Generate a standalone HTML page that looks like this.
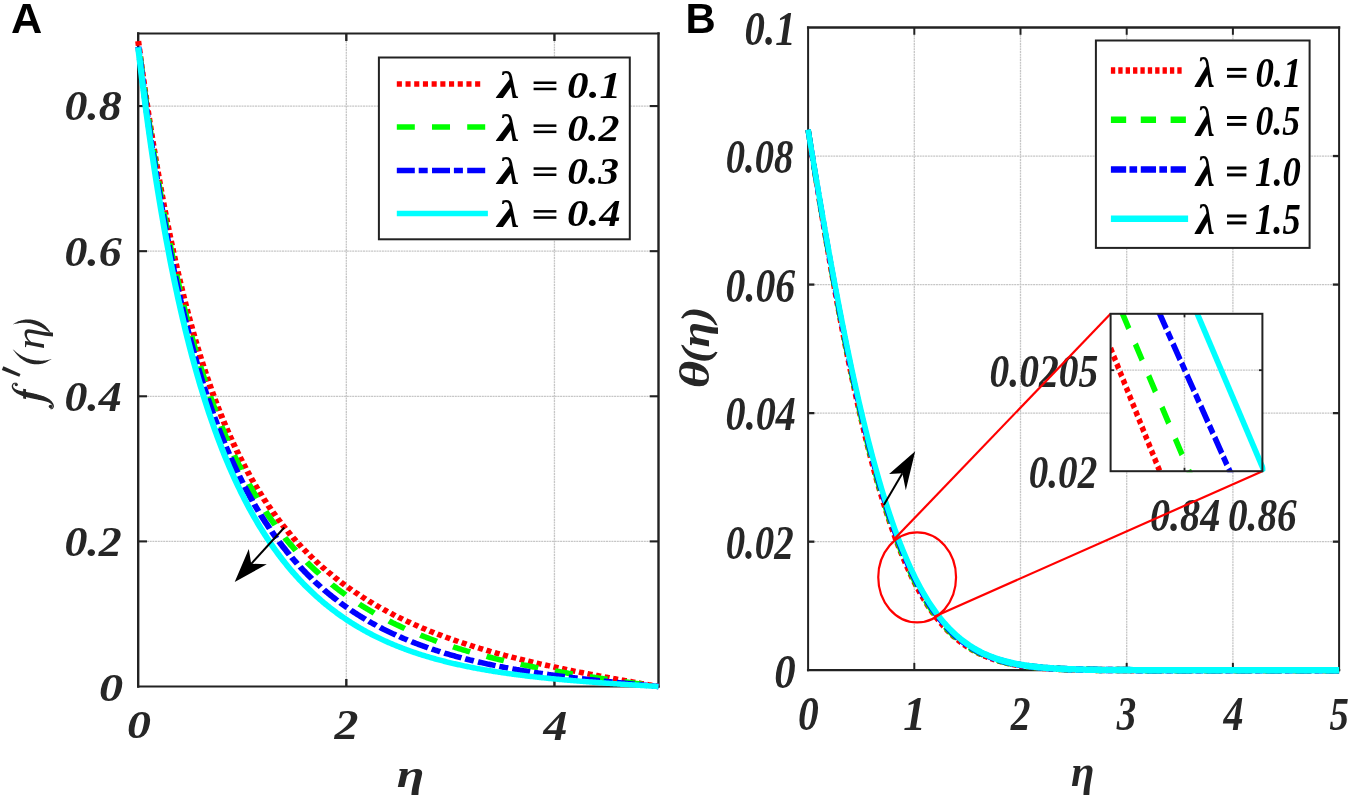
<!DOCTYPE html>
<html><head><meta charset="utf-8"><title>Figure</title>
<style>html,body{margin:0;padding:0;background:#fff}svg{display:block;will-change:transform}</style></head>
<body>
<svg width="1350" height="798" viewBox="0 0 1350 798">
<rect width="1350" height="798" fill="#fff"/>
<line x1="346.32" y1="41.00" x2="346.32" y2="679.00" stroke="#c6c6c6" stroke-width="1.3"  stroke-dasharray="2 0.7"/>
<line x1="554.44" y1="41.00" x2="554.44" y2="679.00" stroke="#c6c6c6" stroke-width="1.3"  stroke-dasharray="2 0.7"/>
<line x1="147.00" y1="541.39" x2="649.70" y2="541.39" stroke="#c6c6c6" stroke-width="1.3"  stroke-dasharray="2 0.7"/>
<line x1="147.00" y1="396.28" x2="649.70" y2="396.28" stroke="#c6c6c6" stroke-width="1.3"  stroke-dasharray="2 0.7"/>
<line x1="147.00" y1="251.17" x2="649.70" y2="251.17" stroke="#c6c6c6" stroke-width="1.3"  stroke-dasharray="2 0.7"/>
<line x1="147.00" y1="106.06" x2="649.70" y2="106.06" stroke="#c6c6c6" stroke-width="1.3"  stroke-dasharray="2 0.7"/>
<line x1="346.32" y1="686.50" x2="346.32" y2="679.00" stroke="#222222" stroke-width="2.4" />
<line x1="346.32" y1="33.50" x2="346.32" y2="41.00" stroke="#222222" stroke-width="2.4" />
<line x1="554.44" y1="686.50" x2="554.44" y2="679.00" stroke="#222222" stroke-width="2.4" />
<line x1="554.44" y1="33.50" x2="554.44" y2="41.00" stroke="#222222" stroke-width="2.4" />
<line x1="138.20" y1="541.39" x2="147.00" y2="541.39" stroke="#222222" stroke-width="2.1" />
<line x1="658.50" y1="541.39" x2="649.70" y2="541.39" stroke="#222222" stroke-width="2.1" />
<line x1="138.20" y1="396.28" x2="147.00" y2="396.28" stroke="#222222" stroke-width="2.1" />
<line x1="658.50" y1="396.28" x2="649.70" y2="396.28" stroke="#222222" stroke-width="2.1" />
<line x1="138.20" y1="251.17" x2="147.00" y2="251.17" stroke="#222222" stroke-width="2.1" />
<line x1="658.50" y1="251.17" x2="649.70" y2="251.17" stroke="#222222" stroke-width="2.1" />
<line x1="138.20" y1="106.06" x2="147.00" y2="106.06" stroke="#222222" stroke-width="2.1" />
<line x1="658.50" y1="106.06" x2="649.70" y2="106.06" stroke="#222222" stroke-width="2.1" />
<line x1="138.20" y1="33.50" x2="658.50" y2="33.50" stroke="#222222" stroke-width="2.1" stroke-linecap="square"/>
<line x1="138.20" y1="686.50" x2="658.50" y2="686.50" stroke="#222222" stroke-width="2.1" stroke-linecap="square"/>
<line x1="138.20" y1="33.50" x2="138.20" y2="686.50" stroke="#222222" stroke-width="2.4" stroke-linecap="square"/>
<line x1="658.50" y1="33.50" x2="658.50" y2="686.50" stroke="#222222" stroke-width="2.4" stroke-linecap="square"/>
<g transform="scale(1.12 1.0)">
<path d="M123.39 41.12 L124.32 49.05 L125.25 56.86 L126.18 64.55 L127.11 72.12 L128.04 79.57 L128.97 86.91 L129.90 94.14 L130.83 101.25 L131.75 108.26 L132.68 115.16 L133.61 121.96 L134.54 128.65 L135.47 135.24 L136.40 141.73 L137.33 148.13 L138.26 154.42 L139.19 160.63 L140.12 166.74 L141.05 172.76 L141.97 178.69 L142.90 184.53 L143.83 190.28 L144.76 195.95 L145.69 201.54 L146.62 207.05 L147.55 212.47 L148.48 217.81 L149.41 223.08 L150.34 228.27 L151.27 233.38 L152.20 238.42 L153.12 243.39 L154.05 248.29 L154.98 253.11 L155.91 257.87 L156.84 262.55 L157.77 267.18 L158.70 271.73 L159.63 276.22 L160.56 280.65 L161.49 285.01 L162.42 289.32 L163.34 293.56 L164.27 297.75 L165.20 301.87 L166.13 305.94 L167.06 309.95 L167.99 313.91 L168.92 317.81 L169.85 321.66 L170.78 325.45 L171.71 329.19 L172.64 332.89 L173.56 336.53 L174.49 340.12 L175.42 343.67 L176.35 347.16 L177.28 350.61 L178.21 354.01 L179.14 357.37 L180.07 360.68 L181.00 363.95 L181.93 367.18 L182.86 370.36 L183.78 373.50 L184.71 376.60 L185.64 379.66 L186.57 382.68 L187.50 385.66 L188.43 388.61 L189.36 391.51 L190.29 394.38 L191.22 397.21 L192.15 400.00 L193.08 402.76 L194.00 405.48 L194.93 408.17 L195.86 410.83 L196.79 413.45 L197.72 416.04 L198.65 418.59 L199.58 421.12 L200.51 423.61 L201.44 426.07 L202.37 428.50 L203.30 430.91 L204.23 433.28 L205.15 435.62 L206.08 437.94 L207.01 440.22 L207.94 442.48 L208.87 444.72 L209.80 446.92 L210.73 449.10 L211.66 451.25 L212.59 453.38 L213.52 455.48 L214.45 457.56 L215.37 459.61 L216.30 461.64 L217.23 463.65 L218.16 465.63 L219.09 467.59 L220.02 469.52 L220.95 471.44 L221.88 473.33 L222.81 475.20 L223.74 477.05 L224.67 478.88 L225.59 480.69 L226.52 482.47 L227.45 484.24 L228.38 485.99 L229.31 487.72 L230.24 489.42 L231.17 491.11 L232.10 492.78 L233.03 494.44 L233.96 496.07 L234.89 497.69 L235.81 499.29 L236.74 500.87 L237.67 502.43 L238.60 503.98 L239.53 505.51 L240.46 507.03 L241.39 508.53 L242.32 510.01 L243.25 511.48 L244.18 512.93 L245.11 514.36 L246.03 515.79 L246.96 517.19 L247.89 518.58 L248.82 519.96 L249.75 521.33 L250.68 522.67 L251.61 524.01 L252.54 525.33 L253.47 526.64 L254.40 527.94 L255.33 529.22 L256.26 530.49 L257.18 531.74 L258.11 532.99 L259.04 534.22 L259.97 535.44 L260.90 536.65 L261.83 537.84 L262.76 539.03 L263.69 540.20 L264.62 541.36 L265.55 542.51 L266.48 543.65 L267.40 544.77 L268.33 545.89 L269.26 547.00 L270.19 548.09 L271.12 549.18 L272.05 550.25 L272.98 551.31 L273.91 552.37 L274.84 553.41 L275.77 554.45 L276.70 555.47 L277.62 556.49 L278.55 557.50 L279.48 558.49 L280.41 559.48 L281.34 560.46 L282.27 561.43 L283.20 562.39 L284.13 563.34 L285.06 564.29 L285.99 565.22 L286.92 566.15 L287.84 567.07 L288.77 567.98 L289.70 568.88 L290.63 569.77 L291.56 570.66 L292.49 571.54 L293.42 572.41 L294.35 573.27 L295.28 574.13 L296.21 574.98 L297.14 575.82 L298.06 576.65 L298.99 577.48 L299.92 578.30 L300.85 579.11 L301.78 579.92 L302.71 580.72 L303.64 581.51 L304.57 582.30 L305.50 583.08 L306.43 583.85 L307.36 584.61 L308.29 585.37 L309.21 586.13 L310.14 586.87 L311.07 587.61 L312.00 588.35 L312.93 589.08 L313.86 589.80 L314.79 590.52 L315.72 591.23 L316.65 591.94 L317.58 592.64 L318.51 593.33 L319.43 594.02 L320.36 594.70 L321.29 595.38 L322.22 596.05 L323.15 596.72 L324.08 597.38 L325.01 598.04 L325.94 598.69 L326.87 599.34 L327.80 599.98 L328.73 600.61 L329.65 601.25 L330.58 601.87 L331.51 602.49 L332.44 603.11 L333.37 603.72 L334.30 604.33 L335.23 604.93 L336.16 605.53 L337.09 606.13 L338.02 606.72 L338.95 607.30 L339.87 607.88 L340.80 608.46 L341.73 609.03 L342.66 609.60 L343.59 610.16 L344.52 610.72 L345.45 611.28 L346.38 611.83 L347.31 612.38 L348.24 612.92 L349.17 613.46 L350.09 613.99 L351.02 614.53 L351.95 615.05 L352.88 615.58 L353.81 616.10 L354.74 616.61 L355.67 617.13 L356.60 617.64 L357.53 618.14 L358.46 618.64 L359.39 619.14 L360.32 619.64 L361.24 620.13 L362.17 620.62 L363.10 621.10 L364.03 621.58 L364.96 622.06 L365.89 622.54 L366.82 623.01 L367.75 623.48 L368.68 623.94 L369.61 624.40 L370.54 624.86 L371.46 625.32 L372.39 625.77 L373.32 626.22 L374.25 626.67 L375.18 627.11 L376.11 627.55 L377.04 627.99 L377.97 628.42 L378.90 628.85 L379.83 629.28 L380.76 629.71 L381.68 630.13 L382.61 630.55 L383.54 630.97 L384.47 631.39 L385.40 631.80 L386.33 632.21 L387.26 632.62 L388.19 633.02 L389.12 633.42 L390.05 633.82 L390.98 634.22 L391.90 634.61 L392.83 635.00 L393.76 635.39 L394.69 635.78 L395.62 636.16 L396.55 636.55 L397.48 636.93 L398.41 637.30 L399.34 637.68 L400.27 638.05 L401.20 638.42 L402.12 638.79 L403.05 639.16 L403.98 639.52 L404.91 639.88 L405.84 640.24 L406.77 640.60 L407.70 640.95 L408.63 641.30 L409.56 641.65 L410.49 642.00 L411.42 642.35 L412.35 642.69 L413.27 643.04 L414.20 643.38 L415.13 643.71 L416.06 644.05 L416.99 644.39 L417.92 644.72 L418.85 645.05 L419.78 645.38 L420.71 645.70 L421.64 646.03 L422.57 646.35 L423.49 646.67 L424.42 646.99 L425.35 647.31 L426.28 647.63 L427.21 647.94 L428.14 648.25 L429.07 648.56 L430.00 648.87 L430.93 649.18 L431.86 649.48 L432.79 649.79 L433.71 650.09 L434.64 650.39 L435.57 650.69 L436.50 650.99 L437.43 651.28 L438.36 651.58 L439.29 651.87 L440.22 652.16 L441.15 652.45 L442.08 652.74 L443.01 653.02 L443.93 653.31 L444.86 653.59 L445.79 653.87 L446.72 654.15 L447.65 654.43 L448.58 654.71 L449.51 654.98 L450.44 655.26 L451.37 655.53 L452.30 655.80 L453.23 656.08 L454.15 656.34 L455.08 656.61 L456.01 656.88 L456.94 657.14 L457.87 657.41 L458.80 657.67 L459.73 657.93 L460.66 658.19 L461.59 658.45 L462.52 658.71 L463.45 658.97 L464.38 659.22 L465.30 659.48 L466.23 659.73 L467.16 659.98 L468.09 660.23 L469.02 660.48 L469.95 660.73 L470.88 660.98 L471.81 661.22 L472.74 661.47 L473.67 661.71 L474.60 661.95 L475.52 662.19 L476.45 662.44 L477.38 662.67 L478.31 662.91 L479.24 663.15 L480.17 663.39 L481.10 663.62 L482.03 663.86 L482.96 664.09 L483.89 664.32 L484.82 664.56 L485.74 664.79 L486.67 665.02 L487.60 665.24 L488.53 665.47 L489.46 665.70 L490.39 665.93 L491.32 666.15 L492.25 666.38 L493.18 666.60 L494.11 666.82 L495.04 667.04 L495.96 667.26 L496.89 667.48 L497.82 667.70 L498.75 667.92 L499.68 668.14 L500.61 668.36 L501.54 668.57 L502.47 668.79 L503.40 669.00 L504.33 669.22 L505.26 669.43 L506.18 669.64 L507.11 669.85 L508.04 670.06 L508.97 670.27 L509.90 670.48 L510.83 670.69 L511.76 670.90 L512.69 671.11 L513.62 671.32 L514.55 671.52 L515.48 671.73 L516.41 671.93 L517.33 672.14 L518.26 672.34 L519.19 672.54 L520.12 672.75 L521.05 672.95 L521.98 673.15 L522.91 673.35 L523.84 673.55 L524.77 673.75 L525.70 673.95 L526.63 674.15 L527.55 674.35 L528.48 674.54 L529.41 674.74 L530.34 674.94 L531.27 675.13 L532.20 675.33 L533.13 675.52 L534.06 675.72 L534.99 675.91 L535.92 676.11 L536.85 676.30 L537.77 676.49 L538.70 676.68 L539.63 676.88 L540.56 677.07 L541.49 677.26 L542.42 677.45 L543.35 677.64 L544.28 677.83 L545.21 678.02 L546.14 678.21 L547.07 678.40 L547.99 678.59 L548.92 678.77 L549.85 678.96 L550.78 679.15 L551.71 679.34 L552.64 679.52 L553.57 679.71 L554.50 679.90 L555.43 680.08 L556.36 680.27 L557.29 680.45 L558.21 680.64 L559.14 680.82 L560.07 681.01 L561.00 681.19 L561.93 681.38 L562.86 681.56 L563.79 681.75 L564.72 681.93 L565.65 682.11 L566.58 682.30 L567.51 682.48 L568.44 682.66 L569.36 682.85 L570.29 683.03 L571.22 683.21 L572.15 683.39 L573.08 683.58 L574.01 683.76 L574.94 683.94 L575.87 684.12 L576.80 684.30 L577.73 684.49 L578.66 684.67 L579.58 684.85 L580.51 685.03 L581.44 685.21 L582.37 685.39 L583.30 685.57 L584.23 685.75 L585.16 685.94 L586.09 686.12 L587.02 686.30 L587.95 686.48" fill="none" stroke="#ff0000" stroke-width="5.5" stroke-dasharray="4.55 3.22" stroke-dashoffset="0"/>
<path d="M123.39 43.30 L124.32 51.60 L125.25 59.76 L126.18 67.79 L127.11 75.69 L128.04 83.46 L128.97 91.10 L129.90 98.61 L130.83 106.01 L131.75 113.28 L132.68 120.44 L133.61 127.48 L134.54 134.41 L135.47 141.23 L136.40 147.93 L137.33 154.53 L138.26 161.03 L139.19 167.42 L140.12 173.72 L141.05 179.91 L141.97 186.00 L142.90 192.01 L143.83 197.91 L144.76 203.73 L145.69 209.45 L146.62 215.09 L147.55 220.64 L148.48 226.10 L149.41 231.48 L150.34 236.78 L151.27 242.00 L152.20 247.14 L153.12 252.20 L154.05 257.19 L154.98 262.10 L155.91 266.93 L156.84 271.70 L157.77 276.39 L158.70 281.02 L159.63 285.57 L160.56 290.06 L161.49 294.48 L162.42 298.84 L163.34 303.14 L164.27 307.37 L165.20 311.54 L166.13 315.66 L167.06 319.71 L167.99 323.70 L168.92 327.64 L169.85 331.52 L170.78 335.35 L171.71 339.12 L172.64 342.84 L173.56 346.51 L174.49 350.13 L175.42 353.69 L176.35 357.21 L177.28 360.68 L178.21 364.10 L179.14 367.47 L180.07 370.80 L181.00 374.08 L181.93 377.32 L182.86 380.52 L183.78 383.67 L184.71 386.78 L185.64 389.84 L186.57 392.87 L187.50 395.86 L188.43 398.80 L189.36 401.71 L190.29 404.58 L191.22 407.42 L192.15 410.21 L193.08 412.97 L194.00 415.69 L194.93 418.38 L195.86 421.04 L196.79 423.66 L197.72 426.25 L198.65 428.80 L199.58 431.32 L200.51 433.81 L201.44 436.27 L202.37 438.70 L203.30 441.10 L204.23 443.47 L205.15 445.81 L206.08 448.12 L207.01 450.40 L207.94 452.65 L208.87 454.88 L209.80 457.08 L210.73 459.25 L211.66 461.40 L212.59 463.52 L213.52 465.62 L214.45 467.69 L215.37 469.74 L216.30 471.76 L217.23 473.76 L218.16 475.73 L219.09 477.69 L220.02 479.62 L220.95 481.52 L221.88 483.41 L222.81 485.27 L223.74 487.11 L224.67 488.93 L225.59 490.73 L226.52 492.51 L227.45 494.27 L228.38 496.01 L229.31 497.74 L230.24 499.44 L231.17 501.12 L232.10 502.78 L233.03 504.43 L233.96 506.06 L234.89 507.66 L235.81 509.26 L236.74 510.83 L237.67 512.39 L238.60 513.93 L239.53 515.45 L240.46 516.96 L241.39 518.45 L242.32 519.93 L243.25 521.39 L244.18 522.83 L245.11 524.26 L246.03 525.67 L246.96 527.07 L247.89 528.46 L248.82 529.83 L249.75 531.18 L250.68 532.53 L251.61 533.86 L252.54 535.17 L253.47 536.47 L254.40 537.76 L255.33 539.03 L256.26 540.29 L257.18 541.54 L258.11 542.78 L259.04 544.00 L259.97 545.22 L260.90 546.42 L261.83 547.60 L262.76 548.78 L263.69 549.94 L264.62 551.10 L265.55 552.24 L266.48 553.37 L267.40 554.49 L268.33 555.60 L269.26 556.69 L270.19 557.78 L271.12 558.86 L272.05 559.92 L272.98 560.98 L273.91 562.03 L274.84 563.06 L275.77 564.09 L276.70 565.11 L277.62 566.11 L278.55 567.11 L279.48 568.10 L280.41 569.08 L281.34 570.05 L282.27 571.01 L283.20 571.96 L284.13 572.90 L285.06 573.84 L285.99 574.76 L286.92 575.68 L287.84 576.59 L288.77 577.49 L289.70 578.38 L290.63 579.27 L291.56 580.14 L292.49 581.01 L293.42 581.87 L294.35 582.72 L295.28 583.57 L296.21 584.41 L297.14 585.24 L298.06 586.06 L298.99 586.87 L299.92 587.68 L300.85 588.48 L301.78 589.28 L302.71 590.07 L303.64 590.85 L304.57 591.62 L305.50 592.39 L306.43 593.15 L307.36 593.90 L308.29 594.65 L309.21 595.39 L310.14 596.12 L311.07 596.85 L312.00 597.57 L312.93 598.29 L313.86 599.00 L314.79 599.70 L315.72 600.40 L316.65 601.09 L317.58 601.77 L318.51 602.45 L319.43 603.13 L320.36 603.80 L321.29 604.46 L322.22 605.12 L323.15 605.77 L324.08 606.41 L325.01 607.05 L325.94 607.69 L326.87 608.32 L327.80 608.95 L328.73 609.57 L329.65 610.18 L330.58 610.79 L331.51 611.40 L332.44 612.00 L333.37 612.59 L334.30 613.18 L335.23 613.77 L336.16 614.35 L337.09 614.93 L338.02 615.50 L338.95 616.06 L339.87 616.63 L340.80 617.18 L341.73 617.74 L342.66 618.29 L343.59 618.83 L344.52 619.37 L345.45 619.91 L346.38 620.44 L347.31 620.97 L348.24 621.49 L349.17 622.01 L350.09 622.53 L351.02 623.04 L351.95 623.54 L352.88 624.05 L353.81 624.55 L354.74 625.04 L355.67 625.53 L356.60 626.02 L357.53 626.51 L358.46 626.99 L359.39 627.46 L360.32 627.94 L361.24 628.40 L362.17 628.87 L363.10 629.33 L364.03 629.79 L364.96 630.25 L365.89 630.70 L366.82 631.15 L367.75 631.59 L368.68 632.03 L369.61 632.47 L370.54 632.91 L371.46 633.34 L372.39 633.77 L373.32 634.19 L374.25 634.61 L375.18 635.03 L376.11 635.45 L377.04 635.86 L377.97 636.27 L378.90 636.68 L379.83 637.08 L380.76 637.48 L381.68 637.88 L382.61 638.27 L383.54 638.67 L384.47 639.05 L385.40 639.44 L386.33 639.82 L387.26 640.20 L388.19 640.58 L389.12 640.96 L390.05 641.33 L390.98 641.70 L391.90 642.07 L392.83 642.43 L393.76 642.79 L394.69 643.15 L395.62 643.51 L396.55 643.86 L397.48 644.21 L398.41 644.56 L399.34 644.91 L400.27 645.25 L401.20 645.60 L402.12 645.94 L403.05 646.27 L403.98 646.61 L404.91 646.94 L405.84 647.27 L406.77 647.60 L407.70 647.92 L408.63 648.25 L409.56 648.57 L410.49 648.89 L411.42 649.20 L412.35 649.52 L413.27 649.83 L414.20 650.14 L415.13 650.45 L416.06 650.75 L416.99 651.06 L417.92 651.36 L418.85 651.66 L419.78 651.96 L420.71 652.25 L421.64 652.54 L422.57 652.84 L423.49 653.13 L424.42 653.41 L425.35 653.70 L426.28 653.98 L427.21 654.27 L428.14 654.55 L429.07 654.82 L430.00 655.10 L430.93 655.38 L431.86 655.65 L432.79 655.92 L433.71 656.19 L434.64 656.46 L435.57 656.72 L436.50 656.99 L437.43 657.25 L438.36 657.51 L439.29 657.77 L440.22 658.03 L441.15 658.29 L442.08 658.54 L443.01 658.79 L443.93 659.05 L444.86 659.29 L445.79 659.54 L446.72 659.79 L447.65 660.03 L448.58 660.28 L449.51 660.52 L450.44 660.76 L451.37 661.00 L452.30 661.24 L453.23 661.48 L454.15 661.71 L455.08 661.94 L456.01 662.18 L456.94 662.41 L457.87 662.64 L458.80 662.86 L459.73 663.09 L460.66 663.32 L461.59 663.54 L462.52 663.76 L463.45 663.98 L464.38 664.21 L465.30 664.42 L466.23 664.64 L467.16 664.86 L468.09 665.07 L469.02 665.29 L469.95 665.50 L470.88 665.71 L471.81 665.92 L472.74 666.13 L473.67 666.34 L474.60 666.55 L475.52 666.75 L476.45 666.96 L477.38 667.16 L478.31 667.36 L479.24 667.57 L480.17 667.77 L481.10 667.97 L482.03 668.17 L482.96 668.36 L483.89 668.56 L484.82 668.75 L485.74 668.95 L486.67 669.14 L487.60 669.33 L488.53 669.53 L489.46 669.72 L490.39 669.91 L491.32 670.09 L492.25 670.28 L493.18 670.47 L494.11 670.66 L495.04 670.84 L495.96 671.02 L496.89 671.21 L497.82 671.39 L498.75 671.57 L499.68 671.75 L500.61 671.93 L501.54 672.11 L502.47 672.29 L503.40 672.47 L504.33 672.64 L505.26 672.82 L506.18 673.00 L507.11 673.17 L508.04 673.34 L508.97 673.52 L509.90 673.69 L510.83 673.86 L511.76 674.03 L512.69 674.20 L513.62 674.37 L514.55 674.54 L515.48 674.71 L516.41 674.88 L517.33 675.04 L518.26 675.21 L519.19 675.37 L520.12 675.54 L521.05 675.70 L521.98 675.87 L522.91 676.03 L523.84 676.19 L524.77 676.36 L525.70 676.52 L526.63 676.68 L527.55 676.84 L528.48 677.00 L529.41 677.16 L530.34 677.32 L531.27 677.47 L532.20 677.63 L533.13 677.79 L534.06 677.95 L534.99 678.10 L535.92 678.26 L536.85 678.41 L537.77 678.57 L538.70 678.72 L539.63 678.88 L540.56 679.03 L541.49 679.18 L542.42 679.34 L543.35 679.49 L544.28 679.64 L545.21 679.79 L546.14 679.94 L547.07 680.09 L547.99 680.24 L548.92 680.39 L549.85 680.54 L550.78 680.69 L551.71 680.84 L552.64 680.99 L553.57 681.14 L554.50 681.29 L555.43 681.44 L556.36 681.58 L557.29 681.73 L558.21 681.88 L559.14 682.03 L560.07 682.17 L561.00 682.32 L561.93 682.46 L562.86 682.61 L563.79 682.76 L564.72 682.90 L565.65 683.05 L566.58 683.19 L567.51 683.34 L568.44 683.48 L569.36 683.63 L570.29 683.77 L571.22 683.92 L572.15 684.06 L573.08 684.20 L574.01 684.35 L574.94 684.49 L575.87 684.63 L576.80 684.78 L577.73 684.92 L578.66 685.06 L579.58 685.21 L580.51 685.35 L581.44 685.49 L582.37 685.64 L583.30 685.78 L584.23 685.92 L585.16 686.07 L586.09 686.21 L587.02 686.35 L587.95 686.49" fill="none" stroke="#00ff00" stroke-width="5.5" stroke-dasharray="16.07 15.36" stroke-dashoffset="-13.5"/>
<path d="M123.39 45.11 L124.32 53.68 L125.25 62.10 L126.18 70.37 L127.11 78.50 L128.04 86.50 L128.97 94.36 L129.90 102.08 L130.83 109.68 L131.75 117.14 L132.68 124.48 L133.61 131.70 L134.54 138.80 L135.47 145.78 L136.40 152.65 L137.33 159.40 L138.26 166.04 L139.19 172.58 L140.12 179.01 L141.05 185.33 L141.97 191.55 L142.90 197.68 L143.83 203.70 L144.76 209.63 L145.69 215.47 L146.62 221.21 L147.55 226.86 L148.48 232.43 L149.41 237.90 L150.34 243.30 L151.27 248.60 L152.20 253.83 L153.12 258.98 L154.05 264.05 L154.98 269.04 L155.91 273.95 L156.84 278.80 L157.77 283.56 L158.70 288.26 L159.63 292.89 L160.56 297.45 L161.49 301.94 L162.42 306.37 L163.34 310.73 L164.27 315.02 L165.20 319.26 L166.13 323.43 L167.06 327.54 L167.99 331.60 L168.92 335.59 L169.85 339.53 L170.78 343.42 L171.71 347.25 L172.64 351.02 L173.56 354.74 L174.49 358.41 L175.42 362.03 L176.35 365.60 L177.28 369.12 L178.21 372.59 L179.14 376.02 L180.07 379.39 L181.00 382.72 L181.93 386.01 L182.86 389.25 L183.78 392.45 L184.71 395.61 L185.64 398.72 L186.57 401.80 L187.50 404.83 L188.43 407.82 L189.36 410.78 L190.29 413.69 L191.22 416.57 L192.15 419.41 L193.08 422.22 L194.00 424.98 L194.93 427.72 L195.86 430.41 L196.79 433.08 L197.72 435.71 L198.65 438.30 L199.58 440.87 L200.51 443.40 L201.44 445.90 L202.37 448.37 L203.30 450.81 L204.23 453.22 L205.15 455.60 L206.08 457.95 L207.01 460.27 L207.94 462.57 L208.87 464.84 L209.80 467.07 L210.73 469.29 L211.66 471.47 L212.59 473.63 L213.52 475.77 L214.45 477.88 L215.37 479.96 L216.30 482.02 L217.23 484.06 L218.16 486.07 L219.09 488.06 L220.02 490.02 L220.95 491.96 L221.88 493.88 L222.81 495.78 L223.74 497.66 L224.67 499.51 L225.59 501.35 L226.52 503.16 L227.45 504.95 L228.38 506.73 L229.31 508.48 L230.24 510.21 L231.17 511.93 L232.10 513.62 L233.03 515.30 L233.96 516.95 L234.89 518.59 L235.81 520.21 L236.74 521.82 L237.67 523.40 L238.60 524.97 L239.53 526.52 L240.46 528.06 L241.39 529.57 L242.32 531.08 L243.25 532.56 L244.18 534.03 L245.11 535.48 L246.03 536.92 L246.96 538.35 L247.89 539.75 L248.82 541.15 L249.75 542.53 L250.68 543.89 L251.61 545.24 L252.54 546.57 L253.47 547.90 L254.40 549.20 L255.33 550.50 L256.26 551.78 L257.18 553.04 L258.11 554.30 L259.04 555.54 L259.97 556.77 L260.90 557.98 L261.83 559.19 L262.76 560.38 L263.69 561.56 L264.62 562.73 L265.55 563.88 L266.48 565.02 L267.40 566.16 L268.33 567.28 L269.26 568.39 L270.19 569.48 L271.12 570.57 L272.05 571.65 L272.98 572.71 L273.91 573.77 L274.84 574.81 L275.77 575.85 L276.70 576.87 L277.62 577.88 L278.55 578.89 L279.48 579.88 L280.41 580.87 L281.34 581.84 L282.27 582.80 L283.20 583.76 L284.13 584.71 L285.06 585.64 L285.99 586.57 L286.92 587.49 L287.84 588.40 L288.77 589.30 L289.70 590.19 L290.63 591.08 L291.56 591.95 L292.49 592.82 L293.42 593.68 L294.35 594.53 L295.28 595.37 L296.21 596.20 L297.14 597.03 L298.06 597.85 L298.99 598.66 L299.92 599.46 L300.85 600.25 L301.78 601.04 L302.71 601.82 L303.64 602.59 L304.57 603.36 L305.50 604.12 L306.43 604.87 L307.36 605.61 L308.29 606.35 L309.21 607.08 L310.14 607.80 L311.07 608.52 L312.00 609.23 L312.93 609.93 L313.86 610.63 L314.79 611.32 L315.72 612.00 L316.65 612.68 L317.58 613.35 L318.51 614.02 L319.43 614.67 L320.36 615.33 L321.29 615.97 L322.22 616.61 L323.15 617.25 L324.08 617.88 L325.01 618.50 L325.94 619.12 L326.87 619.73 L327.80 620.34 L328.73 620.94 L329.65 621.53 L330.58 622.12 L331.51 622.71 L332.44 623.28 L333.37 623.86 L334.30 624.43 L335.23 624.99 L336.16 625.55 L337.09 626.10 L338.02 626.65 L338.95 627.19 L339.87 627.73 L340.80 628.26 L341.73 628.79 L342.66 629.32 L343.59 629.84 L344.52 630.35 L345.45 630.86 L346.38 631.37 L347.31 631.87 L348.24 632.36 L349.17 632.86 L350.09 633.34 L351.02 633.83 L351.95 634.30 L352.88 634.78 L353.81 635.25 L354.74 635.72 L355.67 636.18 L356.60 636.64 L357.53 637.09 L358.46 637.54 L359.39 637.99 L360.32 638.43 L361.24 638.87 L362.17 639.30 L363.10 639.73 L364.03 640.16 L364.96 640.58 L365.89 641.00 L366.82 641.41 L367.75 641.83 L368.68 642.23 L369.61 642.64 L370.54 643.04 L371.46 643.44 L372.39 643.83 L373.32 644.22 L374.25 644.61 L375.18 644.99 L376.11 645.37 L377.04 645.75 L377.97 646.12 L378.90 646.50 L379.83 646.86 L380.76 647.23 L381.68 647.59 L382.61 647.95 L383.54 648.30 L384.47 648.65 L385.40 649.00 L386.33 649.35 L387.26 649.69 L388.19 650.03 L389.12 650.37 L390.05 650.70 L390.98 651.03 L391.90 651.36 L392.83 651.69 L393.76 652.01 L394.69 652.33 L395.62 652.65 L396.55 652.96 L397.48 653.28 L398.41 653.58 L399.34 653.89 L400.27 654.20 L401.20 654.50 L402.12 654.80 L403.05 655.09 L403.98 655.39 L404.91 655.68 L405.84 655.97 L406.77 656.26 L407.70 656.54 L408.63 656.82 L409.56 657.10 L410.49 657.38 L411.42 657.65 L412.35 657.93 L413.27 658.20 L414.20 658.47 L415.13 658.73 L416.06 659.00 L416.99 659.26 L417.92 659.52 L418.85 659.77 L419.78 660.03 L420.71 660.28 L421.64 660.53 L422.57 660.78 L423.49 661.03 L424.42 661.28 L425.35 661.52 L426.28 661.76 L427.21 662.00 L428.14 662.24 L429.07 662.47 L430.00 662.70 L430.93 662.94 L431.86 663.17 L432.79 663.39 L433.71 663.62 L434.64 663.84 L435.57 664.07 L436.50 664.29 L437.43 664.51 L438.36 664.72 L439.29 664.94 L440.22 665.15 L441.15 665.36 L442.08 665.57 L443.01 665.78 L443.93 665.99 L444.86 666.20 L445.79 666.40 L446.72 666.60 L447.65 666.80 L448.58 667.00 L449.51 667.20 L450.44 667.40 L451.37 667.59 L452.30 667.79 L453.23 667.98 L454.15 668.17 L455.08 668.36 L456.01 668.54 L456.94 668.73 L457.87 668.91 L458.80 669.10 L459.73 669.28 L460.66 669.46 L461.59 669.64 L462.52 669.82 L463.45 669.99 L464.38 670.17 L465.30 670.34 L466.23 670.52 L467.16 670.69 L468.09 670.86 L469.02 671.03 L469.95 671.20 L470.88 671.36 L471.81 671.53 L472.74 671.69 L473.67 671.86 L474.60 672.02 L475.52 672.18 L476.45 672.34 L477.38 672.50 L478.31 672.65 L479.24 672.81 L480.17 672.97 L481.10 673.12 L482.03 673.27 L482.96 673.43 L483.89 673.58 L484.82 673.73 L485.74 673.88 L486.67 674.03 L487.60 674.17 L488.53 674.32 L489.46 674.46 L490.39 674.61 L491.32 674.75 L492.25 674.89 L493.18 675.04 L494.11 675.18 L495.04 675.32 L495.96 675.46 L496.89 675.59 L497.82 675.73 L498.75 675.87 L499.68 676.00 L500.61 676.14 L501.54 676.27 L502.47 676.41 L503.40 676.54 L504.33 676.67 L505.26 676.80 L506.18 676.93 L507.11 677.06 L508.04 677.19 L508.97 677.32 L509.90 677.44 L510.83 677.57 L511.76 677.70 L512.69 677.82 L513.62 677.95 L514.55 678.07 L515.48 678.19 L516.41 678.32 L517.33 678.44 L518.26 678.56 L519.19 678.68 L520.12 678.80 L521.05 678.92 L521.98 679.04 L522.91 679.16 L523.84 679.27 L524.77 679.39 L525.70 679.51 L526.63 679.62 L527.55 679.74 L528.48 679.85 L529.41 679.97 L530.34 680.08 L531.27 680.20 L532.20 680.31 L533.13 680.42 L534.06 680.53 L534.99 680.64 L535.92 680.76 L536.85 680.87 L537.77 680.98 L538.70 681.09 L539.63 681.19 L540.56 681.30 L541.49 681.41 L542.42 681.52 L543.35 681.63 L544.28 681.74 L545.21 681.84 L546.14 681.95 L547.07 682.05 L547.99 682.16 L548.92 682.27 L549.85 682.37 L550.78 682.48 L551.71 682.58 L552.64 682.69 L553.57 682.79 L554.50 682.89 L555.43 683.00 L556.36 683.10 L557.29 683.20 L558.21 683.30 L559.14 683.41 L560.07 683.51 L561.00 683.61 L561.93 683.71 L562.86 683.81 L563.79 683.92 L564.72 684.02 L565.65 684.12 L566.58 684.22 L567.51 684.32 L568.44 684.42 L569.36 684.52 L570.29 684.62 L571.22 684.72 L572.15 684.82 L573.08 684.92 L574.01 685.02 L574.94 685.12 L575.87 685.22 L576.80 685.32 L577.73 685.41 L578.66 685.51 L579.58 685.61 L580.51 685.71 L581.44 685.81 L582.37 685.91 L583.30 686.01 L584.23 686.11 L585.16 686.20 L586.09 686.30 L587.02 686.40 L587.95 686.50" fill="none" stroke="#0000ff" stroke-width="5.5" stroke-dasharray="16.07 3.48 8.04 3.84" stroke-dashoffset="-13.5"/>
<path d="M123.39 47.29 L124.32 56.09 L125.25 64.74 L126.18 73.24 L127.11 81.59 L128.04 89.80 L128.97 97.86 L129.90 105.78 L130.83 113.57 L131.75 121.23 L132.68 128.75 L133.61 136.15 L134.54 143.43 L135.47 150.58 L136.40 157.61 L137.33 164.53 L138.26 171.33 L139.19 178.02 L140.12 184.60 L141.05 191.08 L141.97 197.44 L142.90 203.71 L143.83 209.88 L144.76 215.94 L145.69 221.91 L146.62 227.79 L147.55 233.57 L148.48 239.27 L149.41 244.87 L150.34 250.39 L151.27 255.82 L152.20 261.16 L153.12 266.43 L154.05 271.61 L154.98 276.72 L155.91 281.75 L156.84 286.70 L157.77 291.58 L158.70 296.39 L159.63 301.12 L160.56 305.79 L161.49 310.38 L162.42 314.91 L163.34 319.37 L164.27 323.77 L165.20 328.10 L166.13 332.37 L167.06 336.58 L167.99 340.73 L168.92 344.82 L169.85 348.85 L170.78 352.83 L171.71 356.75 L172.64 360.61 L173.56 364.42 L174.49 368.18 L175.42 371.88 L176.35 375.54 L177.28 379.14 L178.21 382.70 L179.14 386.20 L180.07 389.66 L181.00 393.07 L181.93 396.44 L182.86 399.76 L183.78 403.03 L184.71 406.27 L185.64 409.46 L186.57 412.60 L187.50 415.71 L188.43 418.77 L189.36 421.80 L190.29 424.78 L191.22 427.73 L192.15 430.64 L193.08 433.51 L194.00 436.34 L194.93 439.14 L195.86 441.90 L196.79 444.63 L197.72 447.32 L198.65 449.98 L199.58 452.60 L200.51 455.20 L201.44 457.75 L202.37 460.28 L203.30 462.78 L204.23 465.24 L205.15 467.67 L206.08 470.08 L207.01 472.45 L207.94 474.80 L208.87 477.11 L209.80 479.40 L210.73 481.66 L211.66 483.89 L212.59 486.10 L213.52 488.28 L214.45 490.43 L215.37 492.56 L216.30 494.66 L217.23 496.74 L218.16 498.79 L219.09 500.82 L220.02 502.82 L220.95 504.80 L221.88 506.75 L222.81 508.69 L223.74 510.60 L224.67 512.48 L225.59 514.35 L226.52 516.19 L227.45 518.02 L228.38 519.82 L229.31 521.60 L230.24 523.36 L231.17 525.10 L232.10 526.82 L233.03 528.52 L233.96 530.20 L234.89 531.86 L235.81 533.50 L236.74 535.13 L237.67 536.73 L238.60 538.32 L239.53 539.89 L240.46 541.44 L241.39 542.97 L242.32 544.49 L243.25 545.99 L244.18 547.47 L245.11 548.93 L246.03 550.38 L246.96 551.82 L247.89 553.23 L248.82 554.63 L249.75 556.02 L250.68 557.39 L251.61 558.75 L252.54 560.09 L253.47 561.41 L254.40 562.72 L255.33 564.02 L256.26 565.30 L257.18 566.57 L258.11 567.82 L259.04 569.06 L259.97 570.29 L260.90 571.50 L261.83 572.70 L262.76 573.89 L263.69 575.06 L264.62 576.22 L265.55 577.37 L266.48 578.51 L267.40 579.63 L268.33 580.75 L269.26 581.84 L270.19 582.93 L271.12 584.01 L272.05 585.07 L272.98 586.13 L273.91 587.17 L274.84 588.20 L275.77 589.22 L276.70 590.23 L277.62 591.23 L278.55 592.21 L279.48 593.19 L280.41 594.16 L281.34 595.11 L282.27 596.06 L283.20 596.99 L284.13 597.92 L285.06 598.83 L285.99 599.74 L286.92 600.64 L287.84 601.52 L288.77 602.40 L289.70 603.27 L290.63 604.13 L291.56 604.98 L292.49 605.82 L293.42 606.65 L294.35 607.48 L295.28 608.29 L296.21 609.10 L297.14 609.90 L298.06 610.69 L298.99 611.47 L299.92 612.24 L300.85 613.01 L301.78 613.76 L302.71 614.51 L303.64 615.25 L304.57 615.99 L305.50 616.71 L306.43 617.43 L307.36 618.14 L308.29 618.85 L309.21 619.54 L310.14 620.23 L311.07 620.91 L312.00 621.59 L312.93 622.25 L313.86 622.92 L314.79 623.57 L315.72 624.22 L316.65 624.86 L317.58 625.49 L318.51 626.12 L319.43 626.74 L320.36 627.35 L321.29 627.96 L322.22 628.56 L323.15 629.16 L324.08 629.75 L325.01 630.33 L325.94 630.91 L326.87 631.48 L327.80 632.04 L328.73 632.60 L329.65 633.16 L330.58 633.71 L331.51 634.25 L332.44 634.79 L333.37 635.32 L334.30 635.84 L335.23 636.36 L336.16 636.88 L337.09 637.39 L338.02 637.89 L338.95 638.39 L339.87 638.89 L340.80 639.38 L341.73 639.86 L342.66 640.34 L343.59 640.82 L344.52 641.29 L345.45 641.75 L346.38 642.21 L347.31 642.67 L348.24 643.12 L349.17 643.56 L350.09 644.01 L351.02 644.44 L351.95 644.88 L352.88 645.31 L353.81 645.73 L354.74 646.15 L355.67 646.56 L356.60 646.98 L357.53 647.38 L358.46 647.79 L359.39 648.19 L360.32 648.58 L361.24 648.97 L362.17 649.36 L363.10 649.74 L364.03 650.12 L364.96 650.50 L365.89 650.87 L366.82 651.24 L367.75 651.60 L368.68 651.96 L369.61 652.32 L370.54 652.67 L371.46 653.02 L372.39 653.37 L373.32 653.71 L374.25 654.05 L375.18 654.39 L376.11 654.72 L377.04 655.05 L377.97 655.37 L378.90 655.70 L379.83 656.02 L380.76 656.33 L381.68 656.64 L382.61 656.95 L383.54 657.26 L384.47 657.57 L385.40 657.87 L386.33 658.16 L387.26 658.46 L388.19 658.75 L389.12 659.04 L390.05 659.33 L390.98 659.61 L391.90 659.89 L392.83 660.17 L393.76 660.44 L394.69 660.71 L395.62 660.98 L396.55 661.25 L397.48 661.51 L398.41 661.78 L399.34 662.04 L400.27 662.29 L401.20 662.55 L402.12 662.80 L403.05 663.05 L403.98 663.29 L404.91 663.54 L405.84 663.78 L406.77 664.02 L407.70 664.25 L408.63 664.49 L409.56 664.72 L410.49 664.95 L411.42 665.18 L412.35 665.40 L413.27 665.63 L414.20 665.85 L415.13 666.07 L416.06 666.29 L416.99 666.50 L417.92 666.71 L418.85 666.92 L419.78 667.13 L420.71 667.34 L421.64 667.54 L422.57 667.75 L423.49 667.95 L424.42 668.15 L425.35 668.34 L426.28 668.54 L427.21 668.73 L428.14 668.92 L429.07 669.11 L430.00 669.30 L430.93 669.48 L431.86 669.67 L432.79 669.85 L433.71 670.03 L434.64 670.21 L435.57 670.39 L436.50 670.56 L437.43 670.74 L438.36 670.91 L439.29 671.08 L440.22 671.25 L441.15 671.42 L442.08 671.58 L443.01 671.75 L443.93 671.91 L444.86 672.07 L445.79 672.23 L446.72 672.39 L447.65 672.54 L448.58 672.70 L449.51 672.85 L450.44 673.01 L451.37 673.16 L452.30 673.31 L453.23 673.45 L454.15 673.60 L455.08 673.75 L456.01 673.89 L456.94 674.03 L457.87 674.18 L458.80 674.32 L459.73 674.45 L460.66 674.59 L461.59 674.73 L462.52 674.86 L463.45 675.00 L464.38 675.13 L465.30 675.26 L466.23 675.39 L467.16 675.52 L468.09 675.65 L469.02 675.78 L469.95 675.91 L470.88 676.03 L471.81 676.15 L472.74 676.28 L473.67 676.40 L474.60 676.52 L475.52 676.64 L476.45 676.76 L477.38 676.87 L478.31 676.99 L479.24 677.11 L480.17 677.22 L481.10 677.34 L482.03 677.45 L482.96 677.56 L483.89 677.67 L484.82 677.78 L485.74 677.89 L486.67 678.00 L487.60 678.11 L488.53 678.21 L489.46 678.32 L490.39 678.42 L491.32 678.53 L492.25 678.63 L493.18 678.73 L494.11 678.83 L495.04 678.93 L495.96 679.03 L496.89 679.13 L497.82 679.23 L498.75 679.33 L499.68 679.42 L500.61 679.52 L501.54 679.62 L502.47 679.71 L503.40 679.80 L504.33 679.90 L505.26 679.99 L506.18 680.08 L507.11 680.17 L508.04 680.26 L508.97 680.35 L509.90 680.44 L510.83 680.53 L511.76 680.62 L512.69 680.71 L513.62 680.79 L514.55 680.88 L515.48 680.97 L516.41 681.05 L517.33 681.13 L518.26 681.22 L519.19 681.30 L520.12 681.38 L521.05 681.47 L521.98 681.55 L522.91 681.63 L523.84 681.71 L524.77 681.79 L525.70 681.87 L526.63 681.95 L527.55 682.03 L528.48 682.11 L529.41 682.18 L530.34 682.26 L531.27 682.34 L532.20 682.42 L533.13 682.49 L534.06 682.57 L534.99 682.64 L535.92 682.72 L536.85 682.79 L537.77 682.87 L538.70 682.94 L539.63 683.01 L540.56 683.09 L541.49 683.16 L542.42 683.23 L543.35 683.30 L544.28 683.38 L545.21 683.45 L546.14 683.52 L547.07 683.59 L547.99 683.66 L548.92 683.73 L549.85 683.80 L550.78 683.87 L551.71 683.94 L552.64 684.01 L553.57 684.08 L554.50 684.14 L555.43 684.21 L556.36 684.28 L557.29 684.35 L558.21 684.42 L559.14 684.48 L560.07 684.55 L561.00 684.62 L561.93 684.68 L562.86 684.75 L563.79 684.82 L564.72 684.88 L565.65 684.95 L566.58 685.01 L567.51 685.08 L568.44 685.15 L569.36 685.21 L570.29 685.28 L571.22 685.34 L572.15 685.41 L573.08 685.47 L574.01 685.54 L574.94 685.60 L575.87 685.67 L576.80 685.73 L577.73 685.79 L578.66 685.86 L579.58 685.92 L580.51 685.99 L581.44 686.05 L582.37 686.12 L583.30 686.18 L584.23 686.24 L585.16 686.31 L586.09 686.37 L587.02 686.44 L587.95 686.50" fill="none" stroke="#00ffff" stroke-width="5.5" stroke-dashoffset="0"/>
</g>
<rect x="378.9" y="57.5" width="250.90" height="181.80" fill="#fff" stroke="#222222" stroke-width="2"/>
<g transform="scale(1.12 1.0)">
<path d="M354.29 83.90 L430.36 83.90" fill="none" stroke="#ff0000" stroke-width="5.5" stroke-dasharray="4.55 3.22" />
<path d="M354.29 127.10 L435.62 127.10" fill="none" stroke="#00ff00" stroke-width="5.5" stroke-dasharray="16.07 15.36" />
<path d="M354.29 170.40 L435.62 170.40" fill="none" stroke="#0000ff" stroke-width="5.5" stroke-dasharray="16.07 3.48 8.04 3.84" />
<path d="M354.29 213.60 L435.62 213.60" fill="none" stroke="#00ffff" stroke-width="5.5" />
</g>
<text transform="matrix(0.4956 0 0 0.3700 497.43 98.30)" font-family="Liberation Serif" font-weight="bold" font-style="italic" font-size="100" fill="#000">λ</text>
<rect x="533.6" y="81.50" width="22.8" height="2.5" fill="#000"/><rect x="533.6" y="87.70" width="22.8" height="2.5" fill="#000"/>
<text transform="matrix(0.4314 0 0 0.3735 567.09 97.74)" font-family="Liberation Serif" font-weight="bold" font-style="italic" font-size="100" fill="#000">0.1</text>
<text transform="matrix(0.4956 0 0 0.3700 497.43 141.20)" font-family="Liberation Serif" font-weight="bold" font-style="italic" font-size="100" fill="#000">λ</text>
<rect x="533.6" y="124.40" width="22.8" height="2.5" fill="#000"/><rect x="533.6" y="130.60" width="22.8" height="2.5" fill="#000"/>
<text transform="matrix(0.4193 0 0 0.3735 567.13 140.64)" font-family="Liberation Serif" font-weight="bold" font-style="italic" font-size="100" fill="#000">0.2</text>
<text transform="matrix(0.4956 0 0 0.3700 497.43 184.10)" font-family="Liberation Serif" font-weight="bold" font-style="italic" font-size="100" fill="#000">λ</text>
<rect x="533.6" y="167.30" width="22.8" height="2.5" fill="#000"/><rect x="533.6" y="173.50" width="22.8" height="2.5" fill="#000"/>
<text transform="matrix(0.4151 0 0 0.3735 567.15 183.54)" font-family="Liberation Serif" font-weight="bold" font-style="italic" font-size="100" fill="#000">0.3</text>
<text transform="matrix(0.4956 0 0 0.3700 497.43 226.90)" font-family="Liberation Serif" font-weight="bold" font-style="italic" font-size="100" fill="#000">λ</text>
<rect x="533.6" y="210.10" width="22.8" height="2.5" fill="#000"/><rect x="533.6" y="216.30" width="22.8" height="2.5" fill="#000"/>
<text transform="matrix(0.4270 0 0 0.3735 567.11 226.34)" font-family="Liberation Serif" font-weight="bold" font-style="italic" font-size="100" fill="#000">0.4</text>
<line x1="284.30" y1="527.50" x2="251.20" y2="563.80" stroke="#000" stroke-width="2.0" /><polygon points="234.7,581.9 248.8,548.9 251.2,563.8 266.8,564.2" fill="#000"/>
<text transform="matrix(0.4592 0 0 0.4118 64.39 120.44)" font-family="Liberation Serif" font-weight="bold" font-style="italic" font-size="100" fill="#262626">0.8</text>
<text transform="matrix(0.4592 0 0 0.4118 64.39 265.55)" font-family="Liberation Serif" font-weight="bold" font-style="italic" font-size="100" fill="#262626">0.6</text>
<text transform="matrix(0.4592 0 0 0.4118 64.39 410.66)" font-family="Liberation Serif" font-weight="bold" font-style="italic" font-size="100" fill="#262626">0.4</text>
<text transform="matrix(0.4592 0 0 0.4118 64.39 555.77)" font-family="Liberation Serif" font-weight="bold" font-style="italic" font-size="100" fill="#262626">0.2</text>
<text transform="matrix(0.4831 0 0 0.4074 99.11 701.39)" font-family="Liberation Serif" font-weight="bold" font-style="italic" font-size="100" fill="#262626">0</text>
<text transform="matrix(0.4798 0 0 0.4059 126.92 738.29)" font-family="Liberation Serif" font-weight="bold" font-style="italic" font-size="100" fill="#262626">0</text>
<text transform="matrix(0.4784 0 0 0.4136 334.58 738.90)" font-family="Liberation Serif" font-weight="bold" font-style="italic" font-size="100" fill="#262626">2</text>
<text transform="matrix(0.4784 0 0 0.4290 543.42 739.60)" font-family="Liberation Serif" font-weight="bold" font-style="italic" font-size="100" fill="#262626">4</text>
<text transform="matrix(0.5031 0 0 0.3825 396.79 787.37)" font-family="Liberation Serif" font-weight="bold" font-style="italic" font-size="100" fill="#262626">η</text>
<g fill="#262626"><title>f</title><polygon points="16.36,382.58 16.14,382.60 15.93,382.62 15.70,382.63 15.46,382.64 15.22,382.65 14.97,382.66 14.72,382.69 14.47,382.72 14.21,382.77 13.96,382.84 13.71,382.94 13.47,383.06 13.25,383.22 13.06,383.38 12.87,383.57 12.69,383.77 12.53,383.98 12.37,384.20 12.23,384.44 12.11,384.68 11.99,384.93 11.90,385.18 11.83,385.45 11.77,385.71 11.74,385.97 11.73,386.23 11.73,386.50 11.75,386.78 11.79,387.06 11.84,387.34 11.92,387.62 12.01,387.91 12.11,388.20 12.24,388.49 12.39,388.78 12.55,389.07 12.72,389.36 12.90,389.64 13.10,389.93 13.32,390.23 13.55,390.52 13.81,390.82 14.08,391.13 14.38,391.43 14.70,391.73 15.05,392.03 15.41,392.32 15.80,392.61 16.22,392.90 16.65,393.18 17.11,393.47 17.58,393.75 18.08,394.03 18.59,394.31 19.11,394.58 19.65,394.85 20.20,395.10 20.76,395.35 21.33,395.59 21.91,395.82 22.52,396.03 23.15,396.24 23.79,396.43 24.43,396.62 25.07,396.79 25.72,396.95 26.37,397.11 27.01,397.26 27.65,397.41 28.28,397.56 28.89,397.70 29.50,397.85 30.12,398.00 30.75,398.15 31.38,398.29 32.01,398.43 32.65,398.57 33.28,398.70 33.90,398.84 34.53,398.97 35.15,399.10 35.76,399.23 36.37,399.36 36.98,399.49 37.60,399.62 38.22,399.75 38.84,399.88 39.46,400.00 40.07,400.12 40.67,400.24 41.25,400.36 41.83,400.48 42.38,400.60 42.91,400.72 43.42,400.83 43.91,400.95 44.39,401.07 44.86,401.20 45.32,401.32 45.77,401.44 46.21,401.56 46.64,401.69 47.04,401.81 47.44,401.94 47.82,402.07 48.18,402.21 48.52,402.35 48.85,402.49 49.15,402.64 49.43,402.79 49.70,402.95 49.96,403.12 50.21,403.29 50.45,403.47 50.67,403.65 50.89,403.84 51.09,404.03 51.28,404.21 51.47,404.40 51.63,404.59 51.78,404.76 51.92,404.94 52.04,405.11 52.15,405.28 52.25,405.46 52.34,405.63 52.41,405.79 52.47,405.96 52.51,406.11 52.55,406.27 52.57,406.41 52.58,406.54 52.58,406.67 52.57,406.79 52.53,406.93 52.48,407.08 52.42,407.23 52.34,407.37 52.26,407.51 52.16,407.65 52.07,407.77 51.97,407.88 51.88,407.97 51.81,408.04 51.76,408.09 51.70,408.12 51.63,408.15 51.53,408.17 51.42,408.19 51.29,408.20 51.15,408.20 51.00,408.20 50.84,408.21 50.68,408.21 50.50,408.22 50.34,408.24 50.41,409.14 50.54,409.14 50.67,409.15 50.81,409.16 50.96,409.17 51.12,409.19 51.29,409.20 51.47,409.21 51.65,409.20 51.85,409.18 52.05,409.13 52.26,409.05 52.45,408.94 52.62,408.82 52.77,408.68 52.93,408.53 53.07,408.36 53.21,408.19 53.35,408.00 53.47,407.79 53.59,407.58 53.69,407.36 53.77,407.12 53.84,406.88 53.88,406.63 53.90,406.39 53.91,406.15 53.89,405.90 53.86,405.65 53.82,405.40 53.76,405.15 53.69,404.89 53.60,404.63 53.50,404.37 53.39,404.10 53.26,403.84 53.13,403.57 52.98,403.31 52.83,403.05 52.66,402.77 52.48,402.49 52.29,402.20 52.07,401.91 51.84,401.62 51.60,401.32 51.33,401.03 51.04,400.73 50.73,400.44 50.40,400.15 50.06,399.87 49.70,399.59 49.33,399.32 48.95,399.04 48.55,398.77 48.13,398.50 47.70,398.23 47.25,397.97 46.79,397.71 46.31,397.46 45.82,397.22 45.31,396.98 44.77,396.75 44.21,396.52 43.63,396.31 43.05,396.10 42.45,395.90 41.84,395.71 41.23,395.52 40.62,395.33 40.01,395.15 39.40,394.98 38.80,394.80 38.20,394.63 37.59,394.46 36.97,394.28 36.34,394.12 35.71,393.95 35.08,393.79 34.45,393.63 33.81,393.48 33.18,393.32 32.54,393.18 31.91,393.04 31.27,392.90 30.64,392.76 29.98,392.63 29.32,392.51 28.66,392.39 28.00,392.28 27.35,392.18 26.71,392.08 26.08,391.98 25.46,391.89 24.86,391.79 24.28,391.69 23.72,391.59 23.18,391.49 22.64,391.37 22.09,391.26 21.54,391.14 21.01,391.02 20.48,390.90 19.96,390.77 19.46,390.65 18.97,390.52 18.51,390.39 18.06,390.25 17.65,390.12 17.26,389.98 16.90,389.84 16.56,389.69 16.23,389.54 15.92,389.38 15.63,389.22 15.35,389.06 15.09,388.89 14.84,388.72 14.61,388.54 14.39,388.36 14.18,388.18 14.00,388.00 13.84,387.83 13.69,387.65 13.56,387.47 13.45,387.29 13.36,387.10 13.27,386.92 13.21,386.73 13.15,386.55 13.11,386.36 13.09,386.19 13.07,386.01 13.07,385.85 13.08,385.69 13.11,385.52 13.15,385.35 13.21,385.17 13.29,384.99 13.38,384.82 13.49,384.65 13.60,384.49 13.72,384.34 13.84,384.20 13.96,384.08 14.08,383.98 14.19,383.91 14.33,383.84 14.48,383.78 14.66,383.74 14.86,383.70 15.07,383.66 15.30,383.63 15.53,383.61 15.78,383.58 16.02,383.55 16.27,383.51 16.50,383.47"/><circle cx="16.28" cy="384.53" r="1.60"/><circle cx="50.53" cy="406.49" r="1.80"/><polygon points="23.15,388.79 26.06,389.29 26.06,398.97 23.15,398.46"/></g>
<g fill="#262626"><polygon points="12.41,348.95 12.94,349.59 13.46,350.25 13.98,350.92 14.49,351.59 15.01,352.26 15.53,352.93 16.05,353.59 16.58,354.24 17.12,354.87 17.67,355.48 18.22,356.06 18.80,356.62 19.38,357.15 19.98,357.67 20.58,358.17 21.19,358.65 21.81,359.12 22.44,359.58 23.07,360.01 23.71,360.43 24.36,360.82 25.01,361.20 25.66,361.55 26.32,361.88 26.98,362.19 27.64,362.49 28.31,362.76 28.99,363.02 29.67,363.26 30.36,363.48 31.05,363.67 31.75,363.85 32.45,363.99 33.16,364.12 33.87,364.22 34.59,364.29 35.31,364.33 36.05,364.35 36.80,364.34 37.56,364.31 38.32,364.26 39.09,364.18 39.85,364.08 40.62,363.96 41.38,363.81 42.13,363.64 42.88,363.45 43.61,363.23 44.33,362.99 45.05,362.70 45.76,362.38 46.46,362.02 47.16,361.65 47.86,361.26 48.55,360.86 49.25,360.45 49.94,360.04 50.63,359.64 51.33,359.25 52.03,358.87 52.03,358.87 51.46,359.02 50.90,359.17 50.35,359.33 49.80,359.49 49.25,359.65 48.70,359.81 48.14,359.97 47.57,360.11 46.99,360.24 46.39,360.36 45.76,360.45 45.11,360.53 44.43,360.58 43.71,360.62 42.97,360.65 42.21,360.66 41.43,360.66 40.64,360.65 39.85,360.63 39.06,360.59 38.29,360.55 37.53,360.50 36.80,360.44 36.09,360.38 35.41,360.31 34.76,360.23 34.12,360.15 33.50,360.06 32.89,359.96 32.28,359.85 31.68,359.73 31.08,359.59 30.47,359.44 29.85,359.27 29.22,359.08 28.57,358.87 27.91,358.65 27.23,358.40 26.55,358.15 25.86,357.88 25.16,357.59 24.46,357.28 23.76,356.96 23.06,356.63 22.36,356.27 21.67,355.90 20.98,355.52 20.30,355.11 19.63,354.68 18.96,354.22 18.30,353.74 17.64,353.24 16.98,352.71 16.33,352.18 15.68,351.64 15.02,351.09 14.37,350.55 13.72,350.00 13.06,349.47 12.41,348.95"/><polygon points="12.78,324.29 13.34,324.00 13.88,323.70 14.42,323.40 14.95,323.09 15.49,322.78 16.02,322.48 16.57,322.18 17.13,321.89 17.70,321.62 18.29,321.36 18.91,321.12 19.55,320.90 20.22,320.70 20.92,320.50 21.65,320.31 22.39,320.14 23.15,319.97 23.92,319.82 24.70,319.69 25.48,319.58 26.26,319.49 27.04,319.43 27.81,319.40 28.57,319.40 29.33,319.43 30.09,319.49 30.86,319.57 31.63,319.68 32.41,319.81 33.18,319.96 33.94,320.14 34.70,320.33 35.44,320.54 36.18,320.77 36.89,321.02 37.59,321.28 38.28,321.55 38.94,321.83 39.59,322.12 40.23,322.43 40.86,322.76 41.48,323.11 42.10,323.48 42.71,323.88 43.31,324.31 43.91,324.77 44.51,325.26 45.11,325.79 45.71,326.37 46.30,326.99 46.88,327.66 47.46,328.37 48.04,329.10 48.61,329.85 49.18,330.62 49.75,331.40 50.31,332.18 50.88,332.95 51.46,333.70 52.03,334.44 52.03,334.44 51.72,334.19 51.42,333.95 51.14,333.72 50.86,333.49 50.58,333.26 50.30,333.03 50.01,332.79 49.69,332.54 49.35,332.29 48.98,332.02 48.57,331.73 48.12,331.43 47.62,331.10 47.09,330.75 46.53,330.38 45.94,329.99 45.32,329.60 44.68,329.20 44.02,328.79 43.35,328.39 42.67,328.00 41.98,327.62 41.29,327.26 40.60,326.92 39.90,326.59 39.18,326.26 38.45,325.93 37.71,325.61 36.95,325.29 36.18,324.99 35.41,324.70 34.64,324.42 33.87,324.17 33.10,323.93 32.34,323.72 31.58,323.53 30.83,323.37 30.08,323.23 29.34,323.11 28.60,323.00 27.86,322.92 27.11,322.85 26.37,322.80 25.62,322.77 24.86,322.75 24.10,322.75 23.33,322.76 22.56,322.78 21.77,322.83 20.97,322.90 20.17,323.00 19.35,323.12 18.54,323.25 17.72,323.39 16.89,323.54 16.07,323.70 15.24,323.86 14.42,324.01 13.60,324.15 12.78,324.29"/></g>
<text transform="matrix(0 -0.4476 0.4265 0 43.89 349.52)" font-family="Liberation Serif" font-weight="normal" font-style="italic" font-size="100" fill="#262626">η</text>
<polygon points="1.82,370.1 3.38,366.3 20.47,373.91 19.33,376.69" fill="#262626"/>
<text transform="matrix(0.4328 0 0 0.4275 10.92 32.80)" font-family="Liberation Sans" font-weight="bold" font-style="normal" font-size="100" fill="#000">A</text>
<line x1="914.30" y1="34.80" x2="914.30" y2="662.90" stroke="#c6c6c6" stroke-width="1.3"  stroke-dasharray="2 0.7"/>
<line x1="1020.50" y1="34.80" x2="1020.50" y2="662.90" stroke="#c6c6c6" stroke-width="1.3"  stroke-dasharray="2 0.7"/>
<line x1="1126.70" y1="34.80" x2="1126.70" y2="662.90" stroke="#c6c6c6" stroke-width="1.3"  stroke-dasharray="2 0.7"/>
<line x1="1232.90" y1="34.80" x2="1232.90" y2="662.90" stroke="#c6c6c6" stroke-width="1.3"  stroke-dasharray="2 0.7"/>
<line x1="814.40" y1="541.66" x2="1332.80" y2="541.66" stroke="#c6c6c6" stroke-width="1.3"  stroke-dasharray="2 0.7"/>
<line x1="814.40" y1="413.12" x2="1332.80" y2="413.12" stroke="#c6c6c6" stroke-width="1.3"  stroke-dasharray="2 0.7"/>
<line x1="814.40" y1="284.58" x2="1332.80" y2="284.58" stroke="#c6c6c6" stroke-width="1.3"  stroke-dasharray="2 0.7"/>
<line x1="814.40" y1="156.04" x2="1332.80" y2="156.04" stroke="#c6c6c6" stroke-width="1.3"  stroke-dasharray="2 0.7"/>
<line x1="914.30" y1="670.20" x2="914.30" y2="662.90" stroke="#222222" stroke-width="2.0" />
<line x1="914.30" y1="27.50" x2="914.30" y2="34.80" stroke="#222222" stroke-width="2.0" />
<line x1="1020.50" y1="670.20" x2="1020.50" y2="662.90" stroke="#222222" stroke-width="2.0" />
<line x1="1020.50" y1="27.50" x2="1020.50" y2="34.80" stroke="#222222" stroke-width="2.0" />
<line x1="1126.70" y1="670.20" x2="1126.70" y2="662.90" stroke="#222222" stroke-width="2.0" />
<line x1="1126.70" y1="27.50" x2="1126.70" y2="34.80" stroke="#222222" stroke-width="2.0" />
<line x1="1232.90" y1="670.20" x2="1232.90" y2="662.90" stroke="#222222" stroke-width="2.0" />
<line x1="1232.90" y1="27.50" x2="1232.90" y2="34.80" stroke="#222222" stroke-width="2.0" />
<line x1="808.10" y1="541.66" x2="814.40" y2="541.66" stroke="#222222" stroke-width="2.3" />
<line x1="1339.10" y1="541.66" x2="1332.80" y2="541.66" stroke="#222222" stroke-width="2.3" />
<line x1="808.10" y1="413.12" x2="814.40" y2="413.12" stroke="#222222" stroke-width="2.3" />
<line x1="1339.10" y1="413.12" x2="1332.80" y2="413.12" stroke="#222222" stroke-width="2.3" />
<line x1="808.10" y1="284.58" x2="814.40" y2="284.58" stroke="#222222" stroke-width="2.3" />
<line x1="1339.10" y1="284.58" x2="1332.80" y2="284.58" stroke="#222222" stroke-width="2.3" />
<line x1="808.10" y1="156.04" x2="814.40" y2="156.04" stroke="#222222" stroke-width="2.3" />
<line x1="1339.10" y1="156.04" x2="1332.80" y2="156.04" stroke="#222222" stroke-width="2.3" />
<line x1="808.10" y1="27.50" x2="1339.10" y2="27.50" stroke="#222222" stroke-width="2.3" stroke-linecap="square"/>
<line x1="808.10" y1="670.20" x2="1339.10" y2="670.20" stroke="#222222" stroke-width="2.3" stroke-linecap="square"/>
<line x1="808.10" y1="27.50" x2="808.10" y2="670.20" stroke="#222222" stroke-width="2.0" stroke-linecap="square"/>
<line x1="1339.10" y1="27.50" x2="1339.10" y2="670.20" stroke="#222222" stroke-width="2.0" stroke-linecap="square"/>
<g transform="scale(1.0 1.18)">
<path d="M808.10 109.91 L809.16 115.68 L810.22 121.43 L811.29 127.16 L812.35 132.86 L813.41 138.53 L814.47 144.18 L815.53 149.79 L816.60 155.38 L817.66 160.94 L818.72 166.47 L819.78 171.97 L820.84 177.43 L821.91 182.86 L822.97 188.26 L824.03 193.62 L825.09 198.95 L826.15 204.24 L827.22 209.50 L828.28 214.72 L829.34 219.90 L830.40 225.04 L831.46 230.14 L832.53 235.21 L833.59 240.23 L834.65 245.22 L835.71 250.16 L836.77 255.06 L837.84 259.92 L838.90 264.74 L839.96 269.52 L841.02 274.25 L842.08 278.94 L843.15 283.59 L844.21 288.19 L845.27 292.74 L846.33 297.26 L847.39 301.73 L848.46 306.15 L849.52 310.53 L850.58 314.86 L851.64 319.15 L852.70 323.39 L853.77 327.59 L854.83 331.74 L855.89 335.84 L856.95 339.90 L858.01 343.91 L859.08 347.88 L860.14 351.79 L861.20 355.67 L862.26 359.49 L863.32 363.27 L864.39 367.00 L865.45 370.69 L866.51 374.33 L867.57 377.93 L868.63 381.47 L869.70 384.97 L870.76 388.43 L871.82 391.84 L872.88 395.20 L873.94 398.52 L875.01 401.80 L876.07 405.02 L877.13 408.21 L878.19 411.34 L879.25 414.44 L880.32 417.48 L881.38 420.49 L882.44 423.45 L883.50 426.36 L884.56 429.24 L885.63 432.07 L886.69 434.85 L887.75 437.60 L888.81 440.30 L889.87 442.96 L890.94 445.57 L892.00 448.15 L893.06 450.68 L894.12 453.17 L895.18 455.63 L896.25 458.04 L897.31 460.41 L898.37 462.74 L899.43 465.04 L900.49 467.29 L901.56 469.51 L902.62 471.68 L903.68 473.82 L904.74 475.93 L905.80 477.99 L906.87 480.02 L907.93 482.01 L908.99 483.97 L910.05 485.89 L911.11 487.78 L912.18 489.63 L913.24 491.44 L914.30 493.23 L915.36 494.98 L916.42 496.69 L917.49 498.38 L918.55 500.03 L919.61 501.65 L920.67 503.24 L921.73 504.79 L922.80 506.32 L923.86 507.81 L924.92 509.28 L925.98 510.72 L927.04 512.12 L928.11 513.50 L929.17 514.85 L930.23 516.18 L931.29 517.47 L932.35 518.74 L933.42 519.98 L934.48 521.20 L935.54 522.39 L936.60 523.55 L937.66 524.69 L938.73 525.81 L939.79 526.90 L940.85 527.97 L941.91 529.01 L942.97 530.03 L944.04 531.03 L945.10 532.00 L946.16 532.96 L947.22 533.89 L948.28 534.80 L949.35 535.69 L950.41 536.56 L951.47 537.41 L952.53 538.24 L953.59 539.05 L954.66 539.84 L955.72 540.61 L956.78 541.37 L957.84 542.11 L958.90 542.82 L959.97 543.53 L961.03 544.21 L962.09 544.88 L963.15 545.53 L964.21 546.17 L965.28 546.79 L966.34 547.39 L967.40 547.98 L968.46 548.56 L969.52 549.12 L970.59 549.66 L971.65 550.19 L972.71 550.71 L973.77 551.22 L974.83 551.71 L975.90 552.19 L976.96 552.66 L978.02 553.11 L979.08 553.56 L980.14 553.99 L981.21 554.41 L982.27 554.82 L983.33 555.21 L984.39 555.60 L985.45 555.98 L986.52 556.34 L987.58 556.70 L988.64 557.05 L989.70 557.39 L990.76 557.71 L991.83 558.03 L992.89 558.34 L993.95 558.64 L995.01 558.94 L996.07 559.22 L997.14 559.50 L998.20 559.77 L999.26 560.03 L1000.32 560.28 L1001.38 560.53 L1002.45 560.77 L1003.51 561.00 L1004.57 561.23 L1005.63 561.45 L1006.69 561.66 L1007.76 561.86 L1008.82 562.06 L1009.88 562.26 L1010.94 562.45 L1012.00 562.63 L1013.07 562.81 L1014.13 562.98 L1015.19 563.15 L1016.25 563.31 L1017.31 563.46 L1018.38 563.62 L1019.44 563.76 L1020.50 563.91 L1021.56 564.05 L1022.62 564.18 L1023.69 564.31 L1024.75 564.44 L1025.81 564.56 L1026.87 564.67 L1027.93 564.79 L1029.00 564.90 L1030.06 565.01 L1031.12 565.11 L1032.18 565.21 L1033.24 565.31 L1034.31 565.40 L1035.37 565.49 L1036.43 565.58 L1037.49 565.67 L1038.55 565.75 L1039.62 565.83 L1040.68 565.91 L1041.74 565.98 L1042.80 566.05 L1043.86 566.12 L1044.93 566.19 L1045.99 566.25 L1047.05 566.32 L1048.11 566.38 L1049.17 566.44 L1050.24 566.49 L1051.30 566.55 L1052.36 566.60 L1053.42 566.65 L1054.48 566.70 L1055.55 566.75 L1056.61 566.79 L1057.67 566.84 L1058.73 566.88 L1059.79 566.92 L1060.86 566.96 L1061.92 567.00 L1062.98 567.04 L1064.04 567.07 L1065.10 567.11 L1066.17 567.14 L1067.23 567.17 L1068.29 567.20 L1069.35 567.23 L1070.41 567.26 L1071.48 567.29 L1072.54 567.31 L1073.60 567.34 L1074.66 567.36 L1075.72 567.39 L1076.79 567.41 L1077.85 567.43 L1078.91 567.45 L1079.97 567.47 L1081.03 567.49 L1082.10 567.51 L1083.16 567.53 L1084.22 567.55 L1085.28 567.57 L1086.34 567.58 L1087.41 567.60 L1088.47 567.61 L1089.53 567.63 L1090.59 567.64 L1091.65 567.65 L1092.72 567.67 L1093.78 567.68 L1094.84 567.69 L1095.90 567.70 L1096.96 567.71 L1098.03 567.72 L1099.09 567.73 L1100.15 567.74 L1101.21 567.75 L1102.27 567.76 L1103.34 567.77 L1104.40 567.78 L1105.46 567.79 L1106.52 567.79 L1107.58 567.80 L1108.65 567.81 L1109.71 567.82 L1110.77 567.82 L1111.83 567.83 L1112.89 567.83 L1113.96 567.84 L1115.02 567.85 L1116.08 567.85 L1117.14 567.86 L1118.20 567.86 L1119.27 567.87 L1120.33 567.87 L1121.39 567.87 L1122.45 567.88 L1123.51 567.88 L1124.58 567.89 L1125.64 567.89 L1126.70 567.89 L1127.76 567.90 L1128.82 567.90 L1129.89 567.90 L1130.95 567.91 L1132.01 567.91 L1133.07 567.91 L1134.13 567.91 L1135.20 567.92 L1136.26 567.92 L1137.32 567.92 L1138.38 567.92 L1139.44 567.92 L1140.51 567.93 L1141.57 567.93 L1142.63 567.93 L1143.69 567.93 L1144.75 567.93 L1145.82 567.93 L1146.88 567.94 L1147.94 567.94 L1149.00 567.94 L1150.06 567.94 L1151.13 567.94 L1152.19 567.94 L1153.25 567.94 L1154.31 567.94 L1155.37 567.95 L1156.44 567.95 L1157.50 567.95 L1158.56 567.95 L1159.62 567.95 L1160.68 567.95 L1161.75 567.95 L1162.81 567.95 L1163.87 567.95 L1164.93 567.95 L1165.99 567.95 L1167.06 567.95 L1168.12 567.95 L1169.18 567.96 L1170.24 567.96 L1171.30 567.96 L1172.37 567.96 L1173.43 567.96 L1174.49 567.96 L1175.55 567.96 L1176.61 567.96 L1177.68 567.96 L1178.74 567.96 L1179.80 567.96 L1180.86 567.96 L1181.92 567.96 L1182.99 567.96 L1184.05 567.96 L1185.11 567.96 L1186.17 567.96 L1187.23 567.96 L1188.30 567.96 L1189.36 567.96 L1190.42 567.96 L1191.48 567.96 L1192.54 567.96 L1193.61 567.96 L1194.67 567.96 L1195.73 567.96 L1196.79 567.96 L1197.85 567.96 L1198.92 567.96 L1199.98 567.96 L1201.04 567.96 L1202.10 567.96 L1203.16 567.96 L1204.23 567.96 L1205.29 567.96 L1206.35 567.96 L1207.41 567.96 L1208.47 567.96 L1209.54 567.96 L1210.60 567.96 L1211.66 567.96 L1212.72 567.96 L1213.78 567.96 L1214.85 567.96 L1215.91 567.97 L1216.97 567.97 L1218.03 567.97 L1219.09 567.97 L1220.16 567.97 L1221.22 567.97 L1222.28 567.97 L1223.34 567.97 L1224.40 567.97 L1225.47 567.97 L1226.53 567.97 L1227.59 567.97 L1228.65 567.97 L1229.71 567.97 L1230.78 567.97 L1231.84 567.97 L1232.90 567.97 L1233.96 567.97 L1235.02 567.97 L1236.09 567.97 L1237.15 567.97 L1238.21 567.97 L1239.27 567.97 L1240.33 567.97 L1241.40 567.97 L1242.46 567.97 L1243.52 567.97 L1244.58 567.97 L1245.64 567.97 L1246.71 567.97 L1247.77 567.97 L1248.83 567.97 L1249.89 567.97 L1250.95 567.97 L1252.02 567.97 L1253.08 567.97 L1254.14 567.97 L1255.20 567.97 L1256.26 567.97 L1257.33 567.97 L1258.39 567.97 L1259.45 567.97 L1260.51 567.97 L1261.57 567.97 L1262.64 567.97 L1263.70 567.97 L1264.76 567.97 L1265.82 567.97 L1266.88 567.97 L1267.95 567.97 L1269.01 567.97 L1270.07 567.97 L1271.13 567.97 L1272.19 567.97 L1273.26 567.97 L1274.32 567.97 L1275.38 567.97 L1276.44 567.97 L1277.50 567.97 L1278.57 567.97 L1279.63 567.97 L1280.69 567.97 L1281.75 567.97 L1282.81 567.97 L1283.88 567.97 L1284.94 567.97 L1286.00 567.97 L1287.06 567.97 L1288.12 567.97 L1289.19 567.97 L1290.25 567.97 L1291.31 567.97 L1292.37 567.97 L1293.43 567.97 L1294.50 567.97 L1295.56 567.97 L1296.62 567.97 L1297.68 567.97 L1298.74 567.97 L1299.81 567.97 L1300.87 567.97 L1301.93 567.97 L1302.99 567.97 L1304.05 567.97 L1305.12 567.97 L1306.18 567.97 L1307.24 567.97 L1308.30 567.97 L1309.36 567.97 L1310.43 567.97 L1311.49 567.97 L1312.55 567.97 L1313.61 567.97 L1314.67 567.97 L1315.74 567.97 L1316.80 567.97 L1317.86 567.97 L1318.92 567.97 L1319.98 567.97 L1321.05 567.97 L1322.11 567.97 L1323.17 567.97 L1324.23 567.97 L1325.29 567.97 L1326.36 567.97 L1327.42 567.97 L1328.48 567.97 L1329.54 567.97 L1330.60 567.97 L1331.67 567.97 L1332.73 567.97 L1333.79 567.97 L1334.85 567.97 L1335.91 567.97 L1336.98 567.97 L1338.04 567.97 L1339.10 567.97" fill="none" stroke="#ff0000" stroke-width="5.5" stroke-dasharray="4.32 3.06" />
<path d="M808.10 109.91 L809.16 115.59 L810.22 121.26 L811.29 126.90 L812.35 132.52 L813.41 138.12 L814.47 143.69 L815.53 149.24 L816.60 154.75 L817.66 160.24 L818.72 165.71 L819.78 171.14 L820.84 176.54 L821.91 181.91 L822.97 187.25 L824.03 192.55 L825.09 197.83 L826.15 203.07 L827.22 208.27 L828.28 213.44 L829.34 218.57 L830.40 223.67 L831.46 228.73 L832.53 233.75 L833.59 238.73 L834.65 243.68 L835.71 248.59 L836.77 253.45 L837.84 258.28 L838.90 263.07 L839.96 267.81 L841.02 272.51 L842.08 277.18 L843.15 281.80 L844.21 286.37 L845.27 290.91 L846.33 295.40 L847.39 299.85 L848.46 304.25 L849.52 308.61 L850.58 312.93 L851.64 317.20 L852.70 321.43 L853.77 325.62 L854.83 329.75 L855.89 333.85 L856.95 337.90 L858.01 341.90 L859.08 345.86 L860.14 349.77 L861.20 353.64 L862.26 357.46 L863.32 361.24 L864.39 364.97 L865.45 368.66 L866.51 372.30 L867.57 375.89 L868.63 379.44 L869.70 382.95 L870.76 386.41 L871.82 389.82 L872.88 393.19 L873.94 396.51 L875.01 399.79 L876.07 403.03 L877.13 406.22 L878.19 409.37 L879.25 412.47 L880.32 415.53 L881.38 418.54 L882.44 421.51 L883.50 424.44 L884.56 427.33 L885.63 430.17 L886.69 432.97 L887.75 435.73 L888.81 438.44 L889.87 441.11 L890.94 443.75 L892.00 446.34 L893.06 448.89 L894.12 451.39 L895.18 453.86 L896.25 456.29 L897.31 458.68 L898.37 461.03 L899.43 463.34 L900.49 465.61 L901.56 467.85 L902.62 470.04 L903.68 472.20 L904.74 474.32 L905.80 476.41 L906.87 478.45 L907.93 480.46 L908.99 482.44 L910.05 484.38 L911.11 486.28 L912.18 488.16 L913.24 489.99 L914.30 491.79 L915.36 493.56 L916.42 495.30 L917.49 497.00 L918.55 498.67 L919.61 500.31 L920.67 501.92 L921.73 503.49 L922.80 505.04 L923.86 506.56 L924.92 508.04 L925.98 509.50 L927.04 510.92 L928.11 512.32 L929.17 513.69 L930.23 515.03 L931.29 516.35 L932.35 517.63 L933.42 518.90 L934.48 520.13 L935.54 521.34 L936.60 522.52 L937.66 523.68 L938.73 524.81 L939.79 525.92 L940.85 527.00 L941.91 528.07 L942.97 529.10 L944.04 530.12 L945.10 531.11 L946.16 532.08 L947.22 533.03 L948.28 533.96 L949.35 534.86 L950.41 535.75 L951.47 536.62 L952.53 537.46 L953.59 538.29 L954.66 539.09 L955.72 539.88 L956.78 540.65 L957.84 541.40 L958.90 542.14 L959.97 542.85 L961.03 543.55 L962.09 544.23 L963.15 544.90 L964.21 545.55 L965.28 546.18 L966.34 546.80 L967.40 547.40 L968.46 547.99 L969.52 548.56 L970.59 549.12 L971.65 549.67 L972.71 550.20 L973.77 550.71 L974.83 551.22 L975.90 551.71 L976.96 552.19 L978.02 552.65 L979.08 553.11 L980.14 553.55 L981.21 553.98 L982.27 554.40 L983.33 554.81 L984.39 555.21 L985.45 555.59 L986.52 555.97 L987.58 556.33 L988.64 556.69 L989.70 557.04 L990.76 557.37 L991.83 557.70 L992.89 558.02 L993.95 558.33 L995.01 558.63 L996.07 558.92 L997.14 559.21 L998.20 559.48 L999.26 559.75 L1000.32 560.01 L1001.38 560.27 L1002.45 560.51 L1003.51 560.75 L1004.57 560.98 L1005.63 561.21 L1006.69 561.43 L1007.76 561.64 L1008.82 561.85 L1009.88 562.05 L1010.94 562.24 L1012.00 562.43 L1013.07 562.61 L1014.13 562.79 L1015.19 562.96 L1016.25 563.13 L1017.31 563.29 L1018.38 563.45 L1019.44 563.60 L1020.50 563.75 L1021.56 563.89 L1022.62 564.03 L1023.69 564.17 L1024.75 564.30 L1025.81 564.42 L1026.87 564.54 L1027.93 564.66 L1029.00 564.78 L1030.06 564.89 L1031.12 564.99 L1032.18 565.10 L1033.24 565.20 L1034.31 565.30 L1035.37 565.39 L1036.43 565.48 L1037.49 565.57 L1038.55 565.66 L1039.62 565.74 L1040.68 565.82 L1041.74 565.89 L1042.80 565.97 L1043.86 566.04 L1044.93 566.11 L1045.99 566.18 L1047.05 566.24 L1048.11 566.31 L1049.17 566.37 L1050.24 566.43 L1051.30 566.48 L1052.36 566.54 L1053.42 566.59 L1054.48 566.64 L1055.55 566.69 L1056.61 566.74 L1057.67 566.79 L1058.73 566.83 L1059.79 566.87 L1060.86 566.91 L1061.92 566.95 L1062.98 566.99 L1064.04 567.03 L1065.10 567.07 L1066.17 567.10 L1067.23 567.13 L1068.29 567.17 L1069.35 567.20 L1070.41 567.23 L1071.48 567.25 L1072.54 567.28 L1073.60 567.31 L1074.66 567.34 L1075.72 567.36 L1076.79 567.38 L1077.85 567.41 L1078.91 567.43 L1079.97 567.45 L1081.03 567.47 L1082.10 567.49 L1083.16 567.51 L1084.22 567.53 L1085.28 567.55 L1086.34 567.56 L1087.41 567.58 L1088.47 567.59 L1089.53 567.61 L1090.59 567.62 L1091.65 567.64 L1092.72 567.65 L1093.78 567.66 L1094.84 567.68 L1095.90 567.69 L1096.96 567.70 L1098.03 567.71 L1099.09 567.72 L1100.15 567.73 L1101.21 567.74 L1102.27 567.75 L1103.34 567.76 L1104.40 567.77 L1105.46 567.78 L1106.52 567.79 L1107.58 567.79 L1108.65 567.80 L1109.71 567.81 L1110.77 567.81 L1111.83 567.82 L1112.89 567.83 L1113.96 567.83 L1115.02 567.84 L1116.08 567.84 L1117.14 567.85 L1118.20 567.85 L1119.27 567.86 L1120.33 567.86 L1121.39 567.87 L1122.45 567.87 L1123.51 567.88 L1124.58 567.88 L1125.64 567.88 L1126.70 567.89 L1127.76 567.89 L1128.82 567.90 L1129.89 567.90 L1130.95 567.90 L1132.01 567.90 L1133.07 567.91 L1134.13 567.91 L1135.20 567.91 L1136.26 567.91 L1137.32 567.92 L1138.38 567.92 L1139.44 567.92 L1140.51 567.92 L1141.57 567.93 L1142.63 567.93 L1143.69 567.93 L1144.75 567.93 L1145.82 567.93 L1146.88 567.93 L1147.94 567.94 L1149.00 567.94 L1150.06 567.94 L1151.13 567.94 L1152.19 567.94 L1153.25 567.94 L1154.31 567.94 L1155.37 567.94 L1156.44 567.95 L1157.50 567.95 L1158.56 567.95 L1159.62 567.95 L1160.68 567.95 L1161.75 567.95 L1162.81 567.95 L1163.87 567.95 L1164.93 567.95 L1165.99 567.95 L1167.06 567.95 L1168.12 567.95 L1169.18 567.95 L1170.24 567.96 L1171.30 567.96 L1172.37 567.96 L1173.43 567.96 L1174.49 567.96 L1175.55 567.96 L1176.61 567.96 L1177.68 567.96 L1178.74 567.96 L1179.80 567.96 L1180.86 567.96 L1181.92 567.96 L1182.99 567.96 L1184.05 567.96 L1185.11 567.96 L1186.17 567.96 L1187.23 567.96 L1188.30 567.96 L1189.36 567.96 L1190.42 567.96 L1191.48 567.96 L1192.54 567.96 L1193.61 567.96 L1194.67 567.96 L1195.73 567.96 L1196.79 567.96 L1197.85 567.96 L1198.92 567.96 L1199.98 567.96 L1201.04 567.96 L1202.10 567.96 L1203.16 567.96 L1204.23 567.96 L1205.29 567.96 L1206.35 567.96 L1207.41 567.96 L1208.47 567.96 L1209.54 567.96 L1210.60 567.96 L1211.66 567.96 L1212.72 567.96 L1213.78 567.96 L1214.85 567.96 L1215.91 567.96 L1216.97 567.97 L1218.03 567.97 L1219.09 567.97 L1220.16 567.97 L1221.22 567.97 L1222.28 567.97 L1223.34 567.97 L1224.40 567.97 L1225.47 567.97 L1226.53 567.97 L1227.59 567.97 L1228.65 567.97 L1229.71 567.97 L1230.78 567.97 L1231.84 567.97 L1232.90 567.97 L1233.96 567.97 L1235.02 567.97 L1236.09 567.97 L1237.15 567.97 L1238.21 567.97 L1239.27 567.97 L1240.33 567.97 L1241.40 567.97 L1242.46 567.97 L1243.52 567.97 L1244.58 567.97 L1245.64 567.97 L1246.71 567.97 L1247.77 567.97 L1248.83 567.97 L1249.89 567.97 L1250.95 567.97 L1252.02 567.97 L1253.08 567.97 L1254.14 567.97 L1255.20 567.97 L1256.26 567.97 L1257.33 567.97 L1258.39 567.97 L1259.45 567.97 L1260.51 567.97 L1261.57 567.97 L1262.64 567.97 L1263.70 567.97 L1264.76 567.97 L1265.82 567.97 L1266.88 567.97 L1267.95 567.97 L1269.01 567.97 L1270.07 567.97 L1271.13 567.97 L1272.19 567.97 L1273.26 567.97 L1274.32 567.97 L1275.38 567.97 L1276.44 567.97 L1277.50 567.97 L1278.57 567.97 L1279.63 567.97 L1280.69 567.97 L1281.75 567.97 L1282.81 567.97 L1283.88 567.97 L1284.94 567.97 L1286.00 567.97 L1287.06 567.97 L1288.12 567.97 L1289.19 567.97 L1290.25 567.97 L1291.31 567.97 L1292.37 567.97 L1293.43 567.97 L1294.50 567.97 L1295.56 567.97 L1296.62 567.97 L1297.68 567.97 L1298.74 567.97 L1299.81 567.97 L1300.87 567.97 L1301.93 567.97 L1302.99 567.97 L1304.05 567.97 L1305.12 567.97 L1306.18 567.97 L1307.24 567.97 L1308.30 567.97 L1309.36 567.97 L1310.43 567.97 L1311.49 567.97 L1312.55 567.97 L1313.61 567.97 L1314.67 567.97 L1315.74 567.97 L1316.80 567.97 L1317.86 567.97 L1318.92 567.97 L1319.98 567.97 L1321.05 567.97 L1322.11 567.97 L1323.17 567.97 L1324.23 567.97 L1325.29 567.97 L1326.36 567.97 L1327.42 567.97 L1328.48 567.97 L1329.54 567.97 L1330.60 567.97 L1331.67 567.97 L1332.73 567.97 L1333.79 567.97 L1334.85 567.97 L1335.91 567.97 L1336.98 567.97 L1338.04 567.97 L1339.10 567.97" fill="none" stroke="#00ff00" stroke-width="5.5" stroke-dasharray="15.27 14.59" />
<path d="M808.10 109.91 L809.16 115.48 L810.22 121.03 L811.29 126.56 L812.35 132.07 L813.41 137.56 L814.47 143.03 L815.53 148.47 L816.60 153.89 L817.66 159.29 L818.72 164.66 L819.78 170.00 L820.84 175.32 L821.91 180.60 L822.97 185.86 L824.03 191.09 L825.09 196.28 L826.15 201.45 L827.22 206.58 L828.28 211.68 L829.34 216.75 L830.40 221.78 L831.46 226.78 L832.53 231.75 L833.59 236.67 L834.65 241.57 L835.71 246.42 L836.77 251.24 L837.84 256.02 L838.90 260.76 L839.96 265.46 L841.02 270.12 L842.08 274.75 L843.15 279.33 L844.21 283.87 L845.27 288.38 L846.33 292.84 L847.39 297.26 L848.46 301.64 L849.52 305.97 L850.58 310.27 L851.64 314.52 L852.70 318.73 L853.77 322.89 L854.83 327.01 L855.89 331.09 L856.95 335.13 L858.01 339.12 L859.08 343.07 L860.14 346.97 L861.20 350.84 L862.26 354.65 L863.32 358.42 L864.39 362.15 L865.45 365.84 L866.51 369.48 L867.57 373.08 L868.63 376.63 L869.70 380.14 L870.76 383.60 L871.82 387.02 L872.88 390.40 L873.94 393.73 L875.01 397.02 L876.07 400.26 L877.13 403.46 L878.19 406.62 L879.25 409.74 L880.32 412.81 L881.38 415.84 L882.44 418.82 L883.50 421.77 L884.56 424.67 L885.63 427.53 L886.69 430.35 L887.75 433.12 L888.81 435.86 L889.87 438.55 L890.94 441.20 L892.00 443.81 L893.06 446.38 L894.12 448.91 L895.18 451.40 L896.25 453.86 L897.31 456.27 L898.37 458.64 L899.43 460.98 L900.49 463.27 L901.56 465.53 L902.62 467.75 L903.68 469.93 L904.74 472.08 L905.80 474.19 L906.87 476.26 L907.93 478.30 L908.99 480.30 L910.05 482.27 L911.11 484.20 L912.18 486.10 L913.24 487.96 L914.30 489.79 L915.36 491.58 L916.42 493.35 L917.49 495.08 L918.55 496.77 L919.61 498.44 L920.67 500.07 L921.73 501.68 L922.80 503.25 L923.86 504.79 L924.92 506.30 L925.98 507.78 L927.04 509.24 L928.11 510.66 L929.17 512.06 L930.23 513.43 L931.29 514.77 L932.35 516.08 L933.42 517.37 L934.48 518.63 L935.54 519.86 L936.60 521.07 L937.66 522.25 L938.73 523.41 L939.79 524.54 L940.85 525.65 L941.91 526.74 L942.97 527.80 L944.04 528.84 L945.10 529.85 L946.16 530.85 L947.22 531.82 L948.28 532.77 L949.35 533.70 L950.41 534.61 L951.47 535.50 L952.53 536.36 L953.59 537.21 L954.66 538.04 L955.72 538.85 L956.78 539.64 L957.84 540.41 L958.90 541.17 L959.97 541.90 L961.03 542.62 L962.09 543.32 L963.15 544.01 L964.21 544.68 L965.28 545.33 L966.34 545.96 L967.40 546.59 L968.46 547.19 L969.52 547.78 L970.59 548.36 L971.65 548.92 L972.71 549.47 L973.77 550.00 L974.83 550.52 L975.90 551.03 L976.96 551.52 L978.02 552.00 L979.08 552.47 L980.14 552.93 L981.21 553.38 L982.27 553.81 L983.33 554.23 L984.39 554.64 L985.45 555.04 L986.52 555.43 L987.58 555.81 L988.64 556.18 L989.70 556.54 L990.76 556.89 L991.83 557.23 L992.89 557.56 L993.95 557.88 L995.01 558.19 L996.07 558.50 L997.14 558.79 L998.20 559.08 L999.26 559.36 L1000.32 559.63 L1001.38 559.89 L1002.45 560.15 L1003.51 560.40 L1004.57 560.64 L1005.63 560.88 L1006.69 561.10 L1007.76 561.33 L1008.82 561.54 L1009.88 561.75 L1010.94 561.95 L1012.00 562.15 L1013.07 562.34 L1014.13 562.52 L1015.19 562.70 L1016.25 562.88 L1017.31 563.05 L1018.38 563.21 L1019.44 563.37 L1020.50 563.52 L1021.56 563.67 L1022.62 563.82 L1023.69 563.96 L1024.75 564.10 L1025.81 564.23 L1026.87 564.36 L1027.93 564.48 L1029.00 564.60 L1030.06 564.72 L1031.12 564.83 L1032.18 564.94 L1033.24 565.04 L1034.31 565.14 L1035.37 565.24 L1036.43 565.34 L1037.49 565.43 L1038.55 565.52 L1039.62 565.61 L1040.68 565.69 L1041.74 565.77 L1042.80 565.85 L1043.86 565.93 L1044.93 566.00 L1045.99 566.07 L1047.05 566.14 L1048.11 566.21 L1049.17 566.27 L1050.24 566.33 L1051.30 566.39 L1052.36 566.45 L1053.42 566.51 L1054.48 566.56 L1055.55 566.61 L1056.61 566.66 L1057.67 566.71 L1058.73 566.76 L1059.79 566.80 L1060.86 566.85 L1061.92 566.89 L1062.98 566.93 L1064.04 566.97 L1065.10 567.01 L1066.17 567.04 L1067.23 567.08 L1068.29 567.11 L1069.35 567.15 L1070.41 567.18 L1071.48 567.21 L1072.54 567.24 L1073.60 567.27 L1074.66 567.29 L1075.72 567.32 L1076.79 567.34 L1077.85 567.37 L1078.91 567.39 L1079.97 567.41 L1081.03 567.44 L1082.10 567.46 L1083.16 567.48 L1084.22 567.50 L1085.28 567.52 L1086.34 567.53 L1087.41 567.55 L1088.47 567.57 L1089.53 567.58 L1090.59 567.60 L1091.65 567.61 L1092.72 567.63 L1093.78 567.64 L1094.84 567.66 L1095.90 567.67 L1096.96 567.68 L1098.03 567.69 L1099.09 567.70 L1100.15 567.71 L1101.21 567.73 L1102.27 567.74 L1103.34 567.75 L1104.40 567.75 L1105.46 567.76 L1106.52 567.77 L1107.58 567.78 L1108.65 567.79 L1109.71 567.80 L1110.77 567.80 L1111.83 567.81 L1112.89 567.82 L1113.96 567.82 L1115.02 567.83 L1116.08 567.83 L1117.14 567.84 L1118.20 567.85 L1119.27 567.85 L1120.33 567.86 L1121.39 567.86 L1122.45 567.87 L1123.51 567.87 L1124.58 567.87 L1125.64 567.88 L1126.70 567.88 L1127.76 567.89 L1128.82 567.89 L1129.89 567.89 L1130.95 567.90 L1132.01 567.90 L1133.07 567.90 L1134.13 567.91 L1135.20 567.91 L1136.26 567.91 L1137.32 567.91 L1138.38 567.92 L1139.44 567.92 L1140.51 567.92 L1141.57 567.92 L1142.63 567.92 L1143.69 567.93 L1144.75 567.93 L1145.82 567.93 L1146.88 567.93 L1147.94 567.93 L1149.00 567.93 L1150.06 567.94 L1151.13 567.94 L1152.19 567.94 L1153.25 567.94 L1154.31 567.94 L1155.37 567.94 L1156.44 567.94 L1157.50 567.94 L1158.56 567.95 L1159.62 567.95 L1160.68 567.95 L1161.75 567.95 L1162.81 567.95 L1163.87 567.95 L1164.93 567.95 L1165.99 567.95 L1167.06 567.95 L1168.12 567.95 L1169.18 567.95 L1170.24 567.95 L1171.30 567.95 L1172.37 567.96 L1173.43 567.96 L1174.49 567.96 L1175.55 567.96 L1176.61 567.96 L1177.68 567.96 L1178.74 567.96 L1179.80 567.96 L1180.86 567.96 L1181.92 567.96 L1182.99 567.96 L1184.05 567.96 L1185.11 567.96 L1186.17 567.96 L1187.23 567.96 L1188.30 567.96 L1189.36 567.96 L1190.42 567.96 L1191.48 567.96 L1192.54 567.96 L1193.61 567.96 L1194.67 567.96 L1195.73 567.96 L1196.79 567.96 L1197.85 567.96 L1198.92 567.96 L1199.98 567.96 L1201.04 567.96 L1202.10 567.96 L1203.16 567.96 L1204.23 567.96 L1205.29 567.96 L1206.35 567.96 L1207.41 567.96 L1208.47 567.96 L1209.54 567.96 L1210.60 567.96 L1211.66 567.96 L1212.72 567.96 L1213.78 567.96 L1214.85 567.96 L1215.91 567.96 L1216.97 567.96 L1218.03 567.96 L1219.09 567.97 L1220.16 567.97 L1221.22 567.97 L1222.28 567.97 L1223.34 567.97 L1224.40 567.97 L1225.47 567.97 L1226.53 567.97 L1227.59 567.97 L1228.65 567.97 L1229.71 567.97 L1230.78 567.97 L1231.84 567.97 L1232.90 567.97 L1233.96 567.97 L1235.02 567.97 L1236.09 567.97 L1237.15 567.97 L1238.21 567.97 L1239.27 567.97 L1240.33 567.97 L1241.40 567.97 L1242.46 567.97 L1243.52 567.97 L1244.58 567.97 L1245.64 567.97 L1246.71 567.97 L1247.77 567.97 L1248.83 567.97 L1249.89 567.97 L1250.95 567.97 L1252.02 567.97 L1253.08 567.97 L1254.14 567.97 L1255.20 567.97 L1256.26 567.97 L1257.33 567.97 L1258.39 567.97 L1259.45 567.97 L1260.51 567.97 L1261.57 567.97 L1262.64 567.97 L1263.70 567.97 L1264.76 567.97 L1265.82 567.97 L1266.88 567.97 L1267.95 567.97 L1269.01 567.97 L1270.07 567.97 L1271.13 567.97 L1272.19 567.97 L1273.26 567.97 L1274.32 567.97 L1275.38 567.97 L1276.44 567.97 L1277.50 567.97 L1278.57 567.97 L1279.63 567.97 L1280.69 567.97 L1281.75 567.97 L1282.81 567.97 L1283.88 567.97 L1284.94 567.97 L1286.00 567.97 L1287.06 567.97 L1288.12 567.97 L1289.19 567.97 L1290.25 567.97 L1291.31 567.97 L1292.37 567.97 L1293.43 567.97 L1294.50 567.97 L1295.56 567.97 L1296.62 567.97 L1297.68 567.97 L1298.74 567.97 L1299.81 567.97 L1300.87 567.97 L1301.93 567.97 L1302.99 567.97 L1304.05 567.97 L1305.12 567.97 L1306.18 567.97 L1307.24 567.97 L1308.30 567.97 L1309.36 567.97 L1310.43 567.97 L1311.49 567.97 L1312.55 567.97 L1313.61 567.97 L1314.67 567.97 L1315.74 567.97 L1316.80 567.97 L1317.86 567.97 L1318.92 567.97 L1319.98 567.97 L1321.05 567.97 L1322.11 567.97 L1323.17 567.97 L1324.23 567.97 L1325.29 567.97 L1326.36 567.97 L1327.42 567.97 L1328.48 567.97 L1329.54 567.97 L1330.60 567.97 L1331.67 567.97 L1332.73 567.97 L1333.79 567.97 L1334.85 567.97 L1335.91 567.97 L1336.98 567.97 L1338.04 567.97 L1339.10 567.97" fill="none" stroke="#0000ff" stroke-width="5.5" stroke-dasharray="15.27 3.31 7.64 3.65" />
<path d="M808.10 109.91 L809.16 115.38 L810.22 120.83 L811.29 126.27 L812.35 131.69 L813.41 137.09 L814.47 142.47 L815.53 147.83 L816.60 153.17 L817.66 158.48 L818.72 163.77 L819.78 169.04 L820.84 174.28 L821.91 179.50 L822.97 184.69 L824.03 189.85 L825.09 194.98 L826.15 200.08 L827.22 205.16 L828.28 210.20 L829.34 215.21 L830.40 220.19 L831.46 225.13 L832.53 230.05 L833.59 234.93 L834.65 239.77 L835.71 244.58 L836.77 249.36 L837.84 254.10 L838.90 258.80 L839.96 263.47 L841.02 268.09 L842.08 272.68 L843.15 277.24 L844.21 281.75 L845.27 286.22 L846.33 290.66 L847.39 295.05 L848.46 299.41 L849.52 303.72 L850.58 308.00 L851.64 312.23 L852.70 316.42 L853.77 320.57 L854.83 324.68 L855.89 328.75 L856.95 332.77 L858.01 336.75 L859.08 340.69 L860.14 344.59 L861.20 348.44 L862.26 352.26 L863.32 356.03 L864.39 359.75 L865.45 363.43 L866.51 367.07 L867.57 370.67 L868.63 374.22 L869.70 377.73 L870.76 381.20 L871.82 384.63 L872.88 388.01 L873.94 391.35 L875.01 394.64 L876.07 397.90 L877.13 401.11 L878.19 404.27 L879.25 407.40 L880.32 410.48 L881.38 413.52 L882.44 416.52 L883.50 419.48 L884.56 422.39 L885.63 425.27 L886.69 428.10 L887.75 430.89 L888.81 433.64 L889.87 436.35 L890.94 439.02 L892.00 441.65 L893.06 444.23 L894.12 446.78 L895.18 449.29 L896.25 451.76 L897.31 454.19 L898.37 456.59 L899.43 458.94 L900.49 461.26 L901.56 463.54 L902.62 465.78 L903.68 467.98 L904.74 470.15 L905.80 472.28 L906.87 474.38 L907.93 476.43 L908.99 478.46 L910.05 480.45 L911.11 482.40 L912.18 484.32 L913.24 486.20 L914.30 488.06 L915.36 489.87 L916.42 491.66 L917.49 493.41 L918.55 495.13 L919.61 496.82 L920.67 498.48 L921.73 500.10 L922.80 501.70 L923.86 503.26 L924.92 504.80 L925.98 506.30 L927.04 507.78 L928.11 509.23 L929.17 510.65 L930.23 512.04 L931.29 513.40 L932.35 514.73 L933.42 516.04 L934.48 517.32 L935.54 518.58 L936.60 519.81 L937.66 521.01 L938.73 522.19 L939.79 523.35 L940.85 524.48 L941.91 525.58 L942.97 526.67 L944.04 527.73 L945.10 528.76 L946.16 529.78 L947.22 530.77 L948.28 531.74 L949.35 532.69 L950.41 533.61 L951.47 534.52 L952.53 535.41 L953.59 536.27 L954.66 537.12 L955.72 537.95 L956.78 538.76 L957.84 539.55 L958.90 540.32 L959.97 541.07 L961.03 541.81 L962.09 542.53 L963.15 543.23 L964.21 543.91 L965.28 544.58 L966.34 545.23 L967.40 545.87 L968.46 546.49 L969.52 547.10 L970.59 547.69 L971.65 548.27 L972.71 548.83 L973.77 549.38 L974.83 549.91 L975.90 550.43 L976.96 550.94 L978.02 551.44 L979.08 551.92 L980.14 552.39 L981.21 552.85 L982.27 553.29 L983.33 553.73 L984.39 554.15 L985.45 554.56 L986.52 554.96 L987.58 555.35 L988.64 555.73 L989.70 556.10 L990.76 556.46 L991.83 556.81 L992.89 557.15 L993.95 557.49 L995.01 557.81 L996.07 558.12 L997.14 558.43 L998.20 558.72 L999.26 559.01 L1000.32 559.29 L1001.38 559.57 L1002.45 559.83 L1003.51 560.09 L1004.57 560.34 L1005.63 560.58 L1006.69 560.82 L1007.76 561.05 L1008.82 561.27 L1009.88 561.48 L1010.94 561.69 L1012.00 561.90 L1013.07 562.10 L1014.13 562.29 L1015.19 562.47 L1016.25 562.66 L1017.31 562.83 L1018.38 563.00 L1019.44 563.17 L1020.50 563.33 L1021.56 563.48 L1022.62 563.63 L1023.69 563.78 L1024.75 563.92 L1025.81 564.06 L1026.87 564.19 L1027.93 564.32 L1029.00 564.44 L1030.06 564.56 L1031.12 564.68 L1032.18 564.79 L1033.24 564.90 L1034.31 565.01 L1035.37 565.11 L1036.43 565.21 L1037.49 565.31 L1038.55 565.40 L1039.62 565.49 L1040.68 565.58 L1041.74 565.66 L1042.80 565.75 L1043.86 565.83 L1044.93 565.90 L1045.99 565.98 L1047.05 566.05 L1048.11 566.12 L1049.17 566.18 L1050.24 566.25 L1051.30 566.31 L1052.36 566.37 L1053.42 566.43 L1054.48 566.49 L1055.55 566.54 L1056.61 566.59 L1057.67 566.64 L1058.73 566.69 L1059.79 566.74 L1060.86 566.79 L1061.92 566.83 L1062.98 566.87 L1064.04 566.91 L1065.10 566.95 L1066.17 566.99 L1067.23 567.03 L1068.29 567.07 L1069.35 567.10 L1070.41 567.13 L1071.48 567.17 L1072.54 567.20 L1073.60 567.23 L1074.66 567.25 L1075.72 567.28 L1076.79 567.31 L1077.85 567.33 L1078.91 567.36 L1079.97 567.38 L1081.03 567.41 L1082.10 567.43 L1083.16 567.45 L1084.22 567.47 L1085.28 567.49 L1086.34 567.51 L1087.41 567.53 L1088.47 567.54 L1089.53 567.56 L1090.59 567.58 L1091.65 567.59 L1092.72 567.61 L1093.78 567.62 L1094.84 567.64 L1095.90 567.65 L1096.96 567.66 L1098.03 567.68 L1099.09 567.69 L1100.15 567.70 L1101.21 567.71 L1102.27 567.72 L1103.34 567.73 L1104.40 567.74 L1105.46 567.75 L1106.52 567.76 L1107.58 567.77 L1108.65 567.78 L1109.71 567.78 L1110.77 567.79 L1111.83 567.80 L1112.89 567.81 L1113.96 567.81 L1115.02 567.82 L1116.08 567.83 L1117.14 567.83 L1118.20 567.84 L1119.27 567.84 L1120.33 567.85 L1121.39 567.85 L1122.45 567.86 L1123.51 567.86 L1124.58 567.87 L1125.64 567.87 L1126.70 567.88 L1127.76 567.88 L1128.82 567.88 L1129.89 567.89 L1130.95 567.89 L1132.01 567.89 L1133.07 567.90 L1134.13 567.90 L1135.20 567.90 L1136.26 567.91 L1137.32 567.91 L1138.38 567.91 L1139.44 567.91 L1140.51 567.92 L1141.57 567.92 L1142.63 567.92 L1143.69 567.92 L1144.75 567.92 L1145.82 567.93 L1146.88 567.93 L1147.94 567.93 L1149.00 567.93 L1150.06 567.93 L1151.13 567.94 L1152.19 567.94 L1153.25 567.94 L1154.31 567.94 L1155.37 567.94 L1156.44 567.94 L1157.50 567.94 L1158.56 567.94 L1159.62 567.94 L1160.68 567.95 L1161.75 567.95 L1162.81 567.95 L1163.87 567.95 L1164.93 567.95 L1165.99 567.95 L1167.06 567.95 L1168.12 567.95 L1169.18 567.95 L1170.24 567.95 L1171.30 567.95 L1172.37 567.95 L1173.43 567.95 L1174.49 567.96 L1175.55 567.96 L1176.61 567.96 L1177.68 567.96 L1178.74 567.96 L1179.80 567.96 L1180.86 567.96 L1181.92 567.96 L1182.99 567.96 L1184.05 567.96 L1185.11 567.96 L1186.17 567.96 L1187.23 567.96 L1188.30 567.96 L1189.36 567.96 L1190.42 567.96 L1191.48 567.96 L1192.54 567.96 L1193.61 567.96 L1194.67 567.96 L1195.73 567.96 L1196.79 567.96 L1197.85 567.96 L1198.92 567.96 L1199.98 567.96 L1201.04 567.96 L1202.10 567.96 L1203.16 567.96 L1204.23 567.96 L1205.29 567.96 L1206.35 567.96 L1207.41 567.96 L1208.47 567.96 L1209.54 567.96 L1210.60 567.96 L1211.66 567.96 L1212.72 567.96 L1213.78 567.96 L1214.85 567.96 L1215.91 567.96 L1216.97 567.96 L1218.03 567.96 L1219.09 567.96 L1220.16 567.96 L1221.22 567.97 L1222.28 567.97 L1223.34 567.97 L1224.40 567.97 L1225.47 567.97 L1226.53 567.97 L1227.59 567.97 L1228.65 567.97 L1229.71 567.97 L1230.78 567.97 L1231.84 567.97 L1232.90 567.97 L1233.96 567.97 L1235.02 567.97 L1236.09 567.97 L1237.15 567.97 L1238.21 567.97 L1239.27 567.97 L1240.33 567.97 L1241.40 567.97 L1242.46 567.97 L1243.52 567.97 L1244.58 567.97 L1245.64 567.97 L1246.71 567.97 L1247.77 567.97 L1248.83 567.97 L1249.89 567.97 L1250.95 567.97 L1252.02 567.97 L1253.08 567.97 L1254.14 567.97 L1255.20 567.97 L1256.26 567.97 L1257.33 567.97 L1258.39 567.97 L1259.45 567.97 L1260.51 567.97 L1261.57 567.97 L1262.64 567.97 L1263.70 567.97 L1264.76 567.97 L1265.82 567.97 L1266.88 567.97 L1267.95 567.97 L1269.01 567.97 L1270.07 567.97 L1271.13 567.97 L1272.19 567.97 L1273.26 567.97 L1274.32 567.97 L1275.38 567.97 L1276.44 567.97 L1277.50 567.97 L1278.57 567.97 L1279.63 567.97 L1280.69 567.97 L1281.75 567.97 L1282.81 567.97 L1283.88 567.97 L1284.94 567.97 L1286.00 567.97 L1287.06 567.97 L1288.12 567.97 L1289.19 567.97 L1290.25 567.97 L1291.31 567.97 L1292.37 567.97 L1293.43 567.97 L1294.50 567.97 L1295.56 567.97 L1296.62 567.97 L1297.68 567.97 L1298.74 567.97 L1299.81 567.97 L1300.87 567.97 L1301.93 567.97 L1302.99 567.97 L1304.05 567.97 L1305.12 567.97 L1306.18 567.97 L1307.24 567.97 L1308.30 567.97 L1309.36 567.97 L1310.43 567.97 L1311.49 567.97 L1312.55 567.97 L1313.61 567.97 L1314.67 567.97 L1315.74 567.97 L1316.80 567.97 L1317.86 567.97 L1318.92 567.97 L1319.98 567.97 L1321.05 567.97 L1322.11 567.97 L1323.17 567.97 L1324.23 567.97 L1325.29 567.97 L1326.36 567.97 L1327.42 567.97 L1328.48 567.97 L1329.54 567.97 L1330.60 567.97 L1331.67 567.97 L1332.73 567.97 L1333.79 567.97 L1334.85 567.97 L1335.91 567.97 L1336.98 567.97 L1338.04 567.97 L1339.10 567.97" fill="none" stroke="#00ffff" stroke-width="5.5" />
</g>
<rect x="1095.9" y="40.5" width="213.70" height="207.40" fill="#fff" stroke="#222222" stroke-width="2"/>
<g transform="scale(1.0 1.18)">
<path d="M1110.90 59.75 L1183.00 59.75" fill="none" stroke="#ff0000" stroke-width="5.5" stroke-dasharray="4.32 3.06" />
<path d="M1110.90 101.53 L1188.10 101.53" fill="none" stroke="#00ff00" stroke-width="5.5" stroke-dasharray="15.27 14.59" />
<path d="M1110.90 143.64 L1188.10 143.64" fill="none" stroke="#0000ff" stroke-width="5.5" stroke-dasharray="15.27 3.31 7.64 3.65" />
<path d="M1110.90 185.42 L1188.10 185.42" fill="none" stroke="#00ffff" stroke-width="5.5" />
</g>
<text transform="matrix(0.4267 0 0 0.4186 1196.09 87.40)" font-family="Liberation Serif" font-weight="bold" font-style="italic" font-size="100" fill="#000">λ</text>
<rect x="1227.0" y="67.90" width="19.4" height="3" fill="#000"/><rect x="1227.0" y="74.80" width="19.4" height="3" fill="#000"/>
<text transform="matrix(0.3686 0 0 0.4294 1255.41 86.96)" font-family="Liberation Serif" font-weight="bold" font-style="italic" font-size="100" fill="#000">0.1</text>
<text transform="matrix(0.4267 0 0 0.4186 1196.09 135.50)" font-family="Liberation Serif" font-weight="bold" font-style="italic" font-size="100" fill="#000">λ</text>
<rect x="1227.0" y="116.00" width="19.4" height="3" fill="#000"/><rect x="1227.0" y="122.90" width="19.4" height="3" fill="#000"/>
<text transform="matrix(0.3580 0 0 0.4294 1255.45 135.06)" font-family="Liberation Serif" font-weight="bold" font-style="italic" font-size="100" fill="#000">0.5</text>
<text transform="matrix(0.4267 0 0 0.4186 1196.09 186.00)" font-family="Liberation Serif" font-weight="bold" font-style="italic" font-size="100" fill="#000">λ</text>
<rect x="1227.0" y="166.50" width="19.4" height="3" fill="#000"/><rect x="1227.0" y="173.40" width="19.4" height="3" fill="#000"/>
<text transform="matrix(0.3660 0 0 0.4294 1255.09 185.56)" font-family="Liberation Serif" font-weight="bold" font-style="italic" font-size="100" fill="#000">1.0</text>
<text transform="matrix(0.4267 0 0 0.4186 1196.09 234.00)" font-family="Liberation Serif" font-weight="bold" font-style="italic" font-size="100" fill="#000">λ</text>
<rect x="1227.0" y="214.50" width="19.4" height="3" fill="#000"/><rect x="1227.0" y="221.40" width="19.4" height="3" fill="#000"/>
<text transform="matrix(0.3642 0 0 0.4358 1255.09 233.55)" font-family="Liberation Serif" font-weight="bold" font-style="italic" font-size="100" fill="#000">1.5</text>
<line x1="883.80" y1="505.00" x2="902.40" y2="473.20" stroke="#000" stroke-width="2.0" /><polygon points="915.2,451.3 889.1,474.1 902.4,473.2 905.8,490.2" fill="#000"/>
<text transform="matrix(0.3952 0 0 0.4721 989.62 387.39)" font-family="Liberation Serif" font-weight="bold" font-style="italic" font-size="100" fill="#262626">0.0205</text>
<text transform="matrix(0.3917 0 0 0.4721 1028.73 487.69)" font-family="Liberation Serif" font-weight="bold" font-style="italic" font-size="100" fill="#262626">0.02</text>
<text transform="matrix(0.4024 0 0 0.4706 1149.89 530.59)" font-family="Liberation Serif" font-weight="bold" font-style="italic" font-size="100" fill="#262626">0.84</text>
<text transform="matrix(0.3930 0 0 0.4706 1227.92 530.59)" font-family="Liberation Serif" font-weight="bold" font-style="italic" font-size="100" fill="#262626">0.86</text>
<ellipse cx="917.15" cy="577.35" rx="38.9" ry="45.0" fill="none" stroke="#ff0000" stroke-width="2.2"/>
<line x1="893.40" y1="540.10" x2="1110.60" y2="313.80" stroke="#ff0000" stroke-width="2.2" />
<line x1="934.10" y1="616.70" x2="1262.40" y2="471.20" stroke="#ff0000" stroke-width="2.2" />
<rect x="1110.6" y="313.8" width="151.80" height="157.40" fill="#fff"/>
<line x1="1184.50" y1="313.80" x2="1184.50" y2="471.20" stroke="#c6c6c6" stroke-width="1.3"  stroke-dasharray="2 0.7"/>
<line x1="1110.60" y1="370.20" x2="1262.40" y2="370.20" stroke="#c6c6c6" stroke-width="1.3"  stroke-dasharray="2 0.7"/>
<clipPath id="cin"><rect x="1110.6" y="313.8" width="154.80" height="158.40"/></clipPath>
<g clip-path="url(#cin)"><g transform="scale(1.0 1.18)">
<path d="M1110.54 295.08 L1163.22 406.78" fill="none" stroke="#ff0000" stroke-width="5.5" stroke-dasharray="4.32 3.06" />
<path d="M1122.05 264.83 L1192.71 406.78" fill="none" stroke="#00ff00" stroke-width="5.5" stroke-dasharray="15.27 14.59" />
<path d="M1159.12 264.83 L1233.72 406.78" fill="none" stroke="#0000ff" stroke-width="5.5" stroke-dasharray="15.27 3.31 7.64 3.65" />
<path d="M1191.44 254.24 L1264.31 399.58" fill="none" stroke="#00ffff" stroke-width="5.5" />
</g></g>
<rect x="1110.6" y="313.8" width="151.80" height="157.40" fill="none" stroke="#222222" stroke-width="2"/>
<line x1="1184.50" y1="313.80" x2="1184.50" y2="317.30" stroke="#222222" stroke-width="1.8" />
<line x1="1184.50" y1="471.20" x2="1184.50" y2="467.70" stroke="#222222" stroke-width="1.8" />
<line x1="1110.60" y1="370.20" x2="1114.10" y2="370.20" stroke="#222222" stroke-width="1.8" />
<line x1="1262.40" y1="370.20" x2="1258.90" y2="370.20" stroke="#222222" stroke-width="1.8" />
<text transform="matrix(0.4081 0 0 0.4765 744.57 44.59)" font-family="Liberation Serif" font-weight="bold" font-style="italic" font-size="100" fill="#262626">0.1</text>
<text transform="matrix(0.3865 0 0 0.4765 725.65 173.13)" font-family="Liberation Serif" font-weight="bold" font-style="italic" font-size="100" fill="#262626">0.08</text>
<text transform="matrix(0.3977 0 0 0.4765 725.61 301.67)" font-family="Liberation Serif" font-weight="bold" font-style="italic" font-size="100" fill="#262626">0.06</text>
<text transform="matrix(0.4018 0 0 0.4765 725.59 430.21)" font-family="Liberation Serif" font-weight="bold" font-style="italic" font-size="100" fill="#262626">0.04</text>
<text transform="matrix(0.3888 0 0 0.4765 725.64 558.75)" font-family="Liberation Serif" font-weight="bold" font-style="italic" font-size="100" fill="#262626">0.02</text>
<text transform="matrix(0.4292 0 0 0.4800 774.30 687.52)" font-family="Liberation Serif" font-weight="bold" font-style="italic" font-size="100" fill="#262626">0</text>
<text transform="matrix(0.4157 0 0 0.4815 797.94 730.02)" font-family="Liberation Serif" font-weight="bold" font-style="italic" font-size="100" fill="#262626">0</text>
<text transform="matrix(0.4533 0 0 0.4901 903.37 730.40)" font-family="Liberation Serif" font-weight="bold" font-style="italic" font-size="100" fill="#262626">1</text>
<text transform="matrix(0.3938 0 0 0.4864 1010.69 730.40)" font-family="Liberation Serif" font-weight="bold" font-style="italic" font-size="100" fill="#262626">2</text>
<text transform="matrix(0.3896 0 0 0.4851 1116.69 730.31)" font-family="Liberation Serif" font-weight="bold" font-style="italic" font-size="100" fill="#262626">3</text>
<text transform="matrix(0.4000 0 0 0.4901 1223.40 730.20)" font-family="Liberation Serif" font-weight="bold" font-style="italic" font-size="100" fill="#262626">4</text>
<text transform="matrix(0.3871 0 0 0.4677 1329.41 729.73)" font-family="Liberation Serif" font-weight="bold" font-style="italic" font-size="100" fill="#262626">5</text>
<text transform="matrix(0.4268 0 0 0.4380 1070.95 786.30)" font-family="Liberation Serif" font-weight="bold" font-style="italic" font-size="100" fill="#262626">η</text>
<text transform="matrix(0 -0.5283 0.4127 0 709.39 388.31)" font-family="Liberation Serif" font-weight="bold" font-style="italic" font-size="100" fill="#262626">θ</text>
<text transform="matrix(0 -0.4655 0.3900 0 709.21 363.03)" font-family="Liberation Serif" font-weight="bold" font-style="italic" font-size="100" fill="#262626">(η)</text>
<text transform="matrix(0.4180 0 0 0.4246 685.38 32.80)" font-family="Liberation Sans" font-weight="bold" font-style="normal" font-size="100" fill="#000">B</text>
</svg>
</body></html>
